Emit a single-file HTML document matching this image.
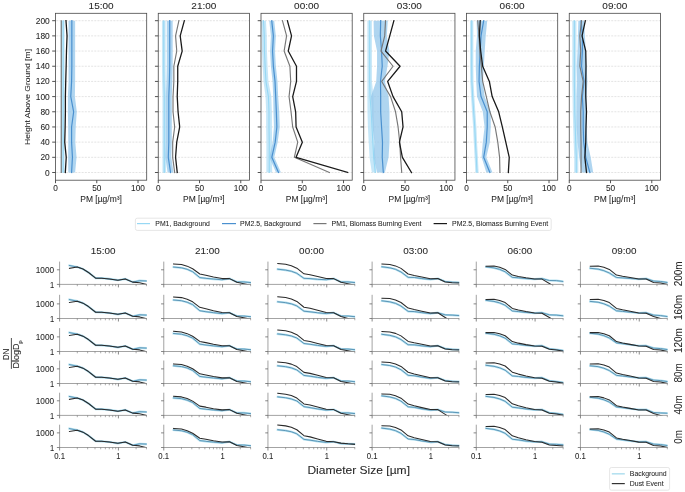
<!DOCTYPE html>
<html><head><meta charset="utf-8"><style>
html,body{margin:0;padding:0;background:#fff;}
svg{display:block;font-family:"Liberation Sans", sans-serif;filter:blur(0.35px);}
text{stroke:#262626;stroke-width:0.06px;}
</style></head><body>
<svg width="685" height="492" viewBox="0 0 685 492">
<rect width="685" height="492" fill="#fff"/>
<clipPath id="tc0"><rect x="55.50" y="13.30" width="91.20" height="166.90"/></clipPath>
<line x1="55.50" y1="172.50" x2="146.70" y2="172.50" stroke="#d2d2d2" stroke-width="0.6" stroke-dasharray="2,1.17" stroke-dashoffset="2.4"/>
<line x1="55.50" y1="157.32" x2="146.70" y2="157.32" stroke="#d2d2d2" stroke-width="0.6" stroke-dasharray="2,1.17" stroke-dashoffset="2.4"/>
<line x1="55.50" y1="142.14" x2="146.70" y2="142.14" stroke="#d2d2d2" stroke-width="0.6" stroke-dasharray="2,1.17" stroke-dashoffset="2.4"/>
<line x1="55.50" y1="126.96" x2="146.70" y2="126.96" stroke="#d2d2d2" stroke-width="0.6" stroke-dasharray="2,1.17" stroke-dashoffset="2.4"/>
<line x1="55.50" y1="111.78" x2="146.70" y2="111.78" stroke="#d2d2d2" stroke-width="0.6" stroke-dasharray="2,1.17" stroke-dashoffset="2.4"/>
<line x1="55.50" y1="96.60" x2="146.70" y2="96.60" stroke="#d2d2d2" stroke-width="0.6" stroke-dasharray="2,1.17" stroke-dashoffset="2.4"/>
<line x1="55.50" y1="81.42" x2="146.70" y2="81.42" stroke="#d2d2d2" stroke-width="0.6" stroke-dasharray="2,1.17" stroke-dashoffset="2.4"/>
<line x1="55.50" y1="66.24" x2="146.70" y2="66.24" stroke="#d2d2d2" stroke-width="0.6" stroke-dasharray="2,1.17" stroke-dashoffset="2.4"/>
<line x1="55.50" y1="51.06" x2="146.70" y2="51.06" stroke="#d2d2d2" stroke-width="0.6" stroke-dasharray="2,1.17" stroke-dashoffset="2.4"/>
<line x1="55.50" y1="35.88" x2="146.70" y2="35.88" stroke="#d2d2d2" stroke-width="0.6" stroke-dasharray="2,1.17" stroke-dashoffset="2.4"/>
<line x1="55.50" y1="20.70" x2="146.70" y2="20.70" stroke="#d2d2d2" stroke-width="0.6" stroke-dasharray="2,1.17" stroke-dashoffset="2.4"/>
<g clip-path="url(#tc0)">
<polygon points="60.62,172.50 60.62,157.32 60.62,142.14 60.62,126.96 60.62,111.78 60.62,96.60 60.62,81.42 60.62,66.24 60.62,51.06 60.62,35.88 60.62,20.70 64.58,20.70 64.58,35.88 64.58,51.06 64.58,66.24 64.58,81.42 64.58,96.60 64.58,111.78 64.58,126.96 64.58,142.14 64.58,157.32 64.58,172.50" fill="#b3dff5" fill-opacity="0.75"/>
<polygon points="68.29,172.50 68.13,157.32 68.29,142.14 68.13,126.96 67.88,111.78 67.88,96.60 68.54,81.42 68.54,66.24 68.54,51.06 68.54,35.88 68.54,20.70 75.14,20.70 75.14,35.88 75.14,51.06 75.14,66.24 75.14,81.42 74.90,96.60 76.79,111.78 75.72,126.96 75.31,142.14 76.55,157.32 75.14,172.50" fill="#94c7eb" fill-opacity="0.75"/>
<polyline points="63.18,172.50 63.18,157.32 63.18,142.14 63.18,126.96 63.18,111.78 63.18,96.60 63.18,81.42 63.18,66.24 63.18,51.06 63.18,35.88 63.18,20.70" fill="none" stroke="#97d8f4" stroke-width="1.1" stroke-linejoin="round" stroke-linecap="square" />
<polyline points="71.59,172.50 72.42,157.32 71.59,142.14 71.59,126.96 73.66,111.78 70.77,96.60 71.59,81.42 71.84,66.24 71.84,51.06 71.84,35.88 71.84,20.70" fill="none" stroke="#4a90cf" stroke-width="1.2" stroke-linejoin="round" stroke-linecap="square" />
<polyline points="61.28,172.50 61.28,157.32 61.28,142.14 61.28,126.96 61.28,111.78 61.28,96.60 61.28,81.42 61.28,66.24 61.28,51.06 61.28,35.88 61.28,20.70" fill="none" stroke="#777777" stroke-width="1.15" stroke-linejoin="round" stroke-linecap="square" />
<polyline points="65.32,172.50 66.23,157.32 64.74,142.14 65.16,126.96 65.40,111.78 65.40,96.60 65.73,81.42 66.15,66.24 66.48,51.06 67.05,35.88 65.98,20.70" fill="none" stroke="#1a1a1a" stroke-width="1.3" stroke-linejoin="round" stroke-linecap="square" />
</g>
<rect x="55.50" y="13.30" width="91.20" height="166.90" fill="none" stroke="#484848" stroke-width="0.8"/>
<line x1="52.20" y1="172.50" x2="55.50" y2="172.50" stroke="#404040" stroke-width="0.9" />
<line x1="52.20" y1="157.32" x2="55.50" y2="157.32" stroke="#404040" stroke-width="0.9" />
<line x1="52.20" y1="142.14" x2="55.50" y2="142.14" stroke="#404040" stroke-width="0.9" />
<line x1="52.20" y1="126.96" x2="55.50" y2="126.96" stroke="#404040" stroke-width="0.9" />
<line x1="52.20" y1="111.78" x2="55.50" y2="111.78" stroke="#404040" stroke-width="0.9" />
<line x1="52.20" y1="96.60" x2="55.50" y2="96.60" stroke="#404040" stroke-width="0.9" />
<line x1="52.20" y1="81.42" x2="55.50" y2="81.42" stroke="#404040" stroke-width="0.9" />
<line x1="52.20" y1="66.24" x2="55.50" y2="66.24" stroke="#404040" stroke-width="0.9" />
<line x1="52.20" y1="51.06" x2="55.50" y2="51.06" stroke="#404040" stroke-width="0.9" />
<line x1="52.20" y1="35.88" x2="55.50" y2="35.88" stroke="#404040" stroke-width="0.9" />
<line x1="52.20" y1="20.70" x2="55.50" y2="20.70" stroke="#404040" stroke-width="0.9" />
<line x1="55.50" y1="180.20" x2="55.50" y2="183.20" stroke="#404040" stroke-width="0.9" />
<text x="55.50" y="191.20" font-size="8.2" text-anchor="middle" fill="#262626" textLength="4.60" lengthAdjust="spacingAndGlyphs" >0</text>
<line x1="96.77" y1="180.20" x2="96.77" y2="183.20" stroke="#404040" stroke-width="0.9" />
<text x="96.77" y="191.20" font-size="8.2" text-anchor="middle" fill="#262626" textLength="9.20" lengthAdjust="spacingAndGlyphs" >50</text>
<line x1="138.03" y1="180.20" x2="138.03" y2="183.20" stroke="#404040" stroke-width="0.9" />
<text x="138.03" y="191.20" font-size="8.2" text-anchor="middle" fill="#262626" textLength="13.80" lengthAdjust="spacingAndGlyphs" >100</text>
<text x="101.10" y="201.80" font-size="8.3" text-anchor="middle" fill="#262626" textLength="41.50" lengthAdjust="spacingAndGlyphs" >PM [µg/m³]</text>
<text x="101.10" y="9.00" font-size="9.9" text-anchor="middle" fill="#262626" textLength="25.00" lengthAdjust="spacingAndGlyphs" >15:00</text>
<text x="49.80" y="175.50" font-size="8.2" text-anchor="end" fill="#262626" textLength="4.67" lengthAdjust="spacingAndGlyphs" >0</text>
<text x="49.80" y="160.32" font-size="8.2" text-anchor="end" fill="#262626" textLength="9.34" lengthAdjust="spacingAndGlyphs" >20</text>
<text x="49.80" y="145.14" font-size="8.2" text-anchor="end" fill="#262626" textLength="9.34" lengthAdjust="spacingAndGlyphs" >40</text>
<text x="49.80" y="129.96" font-size="8.2" text-anchor="end" fill="#262626" textLength="9.34" lengthAdjust="spacingAndGlyphs" >60</text>
<text x="49.80" y="114.78" font-size="8.2" text-anchor="end" fill="#262626" textLength="9.34" lengthAdjust="spacingAndGlyphs" >80</text>
<text x="49.80" y="99.60" font-size="8.2" text-anchor="end" fill="#262626" textLength="14.01" lengthAdjust="spacingAndGlyphs" >100</text>
<text x="49.80" y="84.42" font-size="8.2" text-anchor="end" fill="#262626" textLength="14.01" lengthAdjust="spacingAndGlyphs" >120</text>
<text x="49.80" y="69.24" font-size="8.2" text-anchor="end" fill="#262626" textLength="14.01" lengthAdjust="spacingAndGlyphs" >140</text>
<text x="49.80" y="54.06" font-size="8.2" text-anchor="end" fill="#262626" textLength="14.01" lengthAdjust="spacingAndGlyphs" >160</text>
<text x="49.80" y="38.88" font-size="8.2" text-anchor="end" fill="#262626" textLength="14.01" lengthAdjust="spacingAndGlyphs" >180</text>
<text x="49.80" y="23.70" font-size="8.2" text-anchor="end" fill="#262626" textLength="14.01" lengthAdjust="spacingAndGlyphs" >200</text>
<text x="0" y="0" font-size="7.9" text-anchor="middle" fill="#262626" textLength="96" lengthAdjust="spacingAndGlyphs" transform="translate(30.1,96.9) rotate(-90)">Height Above Ground [m]</text>
<clipPath id="tc1"><rect x="158.25" y="13.30" width="91.20" height="166.90"/></clipPath>
<line x1="158.25" y1="172.50" x2="249.45" y2="172.50" stroke="#d2d2d2" stroke-width="0.6" stroke-dasharray="2,1.17" stroke-dashoffset="2.4"/>
<line x1="158.25" y1="157.32" x2="249.45" y2="157.32" stroke="#d2d2d2" stroke-width="0.6" stroke-dasharray="2,1.17" stroke-dashoffset="2.4"/>
<line x1="158.25" y1="142.14" x2="249.45" y2="142.14" stroke="#d2d2d2" stroke-width="0.6" stroke-dasharray="2,1.17" stroke-dashoffset="2.4"/>
<line x1="158.25" y1="126.96" x2="249.45" y2="126.96" stroke="#d2d2d2" stroke-width="0.6" stroke-dasharray="2,1.17" stroke-dashoffset="2.4"/>
<line x1="158.25" y1="111.78" x2="249.45" y2="111.78" stroke="#d2d2d2" stroke-width="0.6" stroke-dasharray="2,1.17" stroke-dashoffset="2.4"/>
<line x1="158.25" y1="96.60" x2="249.45" y2="96.60" stroke="#d2d2d2" stroke-width="0.6" stroke-dasharray="2,1.17" stroke-dashoffset="2.4"/>
<line x1="158.25" y1="81.42" x2="249.45" y2="81.42" stroke="#d2d2d2" stroke-width="0.6" stroke-dasharray="2,1.17" stroke-dashoffset="2.4"/>
<line x1="158.25" y1="66.24" x2="249.45" y2="66.24" stroke="#d2d2d2" stroke-width="0.6" stroke-dasharray="2,1.17" stroke-dashoffset="2.4"/>
<line x1="158.25" y1="51.06" x2="249.45" y2="51.06" stroke="#d2d2d2" stroke-width="0.6" stroke-dasharray="2,1.17" stroke-dashoffset="2.4"/>
<line x1="158.25" y1="35.88" x2="249.45" y2="35.88" stroke="#d2d2d2" stroke-width="0.6" stroke-dasharray="2,1.17" stroke-dashoffset="2.4"/>
<line x1="158.25" y1="20.70" x2="249.45" y2="20.70" stroke="#d2d2d2" stroke-width="0.6" stroke-dasharray="2,1.17" stroke-dashoffset="2.4"/>
<g clip-path="url(#tc1)">
<polygon points="162.46,172.50 162.46,157.32 162.46,142.14 162.46,126.96 162.46,111.78 162.46,96.60 162.13,81.42 161.96,66.24 161.96,51.06 161.96,35.88 161.96,20.70 165.60,20.70 165.60,35.88 165.60,51.06 165.60,66.24 165.76,81.42 166.09,96.60 166.09,111.78 166.09,126.96 166.09,142.14 166.09,157.32 166.09,172.50" fill="#b3dff5" fill-opacity="0.75"/>
<polygon points="167.58,172.50 165.35,157.32 165.84,142.14 165.84,126.96 165.84,111.78 165.84,96.60 166.42,81.42 166.75,66.24 166.75,51.06 166.75,35.88 166.75,20.70 172.69,20.70 172.69,35.88 172.69,51.06 172.69,66.24 172.36,81.42 171.79,96.60 171.79,111.78 171.79,126.96 171.79,142.14 171.29,157.32 173.52,172.50" fill="#94c7eb" fill-opacity="0.75"/>
<polyline points="164.27,172.50 164.27,157.32 164.27,142.14 164.27,126.96 164.27,111.78 164.27,96.60 163.94,81.42 163.78,66.24 163.78,51.06 163.78,35.88 163.78,20.70" fill="none" stroke="#97d8f4" stroke-width="1.1" stroke-linejoin="round" stroke-linecap="square" />
<polyline points="170.55,172.50 168.32,157.32 168.81,142.14 168.81,126.96 168.81,111.78 168.81,96.60 169.39,81.42 169.72,66.24 169.72,51.06 169.72,35.88 169.72,20.70" fill="none" stroke="#4a90cf" stroke-width="1.2" stroke-linejoin="round" stroke-linecap="square" />
<polyline points="174.67,172.50 172.69,157.32 172.69,142.14 174.67,126.96 173.02,111.78 173.02,96.60 173.85,81.42 173.85,66.24 176.74,51.06 175.58,35.88 178.88,20.70" fill="none" stroke="#777777" stroke-width="1.15" stroke-linejoin="round" stroke-linecap="square" />
<polyline points="177.23,172.50 175.58,157.32 176.74,142.14 179.71,126.96 178.06,111.78 177.23,96.60 177.73,81.42 177.73,66.24 182.18,51.06 180.20,35.88 184.33,20.70" fill="none" stroke="#1a1a1a" stroke-width="1.3" stroke-linejoin="round" stroke-linecap="square" />
</g>
<rect x="158.25" y="13.30" width="91.20" height="166.90" fill="none" stroke="#484848" stroke-width="0.8"/>
<line x1="154.95" y1="172.50" x2="158.25" y2="172.50" stroke="#404040" stroke-width="0.9" />
<line x1="154.95" y1="157.32" x2="158.25" y2="157.32" stroke="#404040" stroke-width="0.9" />
<line x1="154.95" y1="142.14" x2="158.25" y2="142.14" stroke="#404040" stroke-width="0.9" />
<line x1="154.95" y1="126.96" x2="158.25" y2="126.96" stroke="#404040" stroke-width="0.9" />
<line x1="154.95" y1="111.78" x2="158.25" y2="111.78" stroke="#404040" stroke-width="0.9" />
<line x1="154.95" y1="96.60" x2="158.25" y2="96.60" stroke="#404040" stroke-width="0.9" />
<line x1="154.95" y1="81.42" x2="158.25" y2="81.42" stroke="#404040" stroke-width="0.9" />
<line x1="154.95" y1="66.24" x2="158.25" y2="66.24" stroke="#404040" stroke-width="0.9" />
<line x1="154.95" y1="51.06" x2="158.25" y2="51.06" stroke="#404040" stroke-width="0.9" />
<line x1="154.95" y1="35.88" x2="158.25" y2="35.88" stroke="#404040" stroke-width="0.9" />
<line x1="154.95" y1="20.70" x2="158.25" y2="20.70" stroke="#404040" stroke-width="0.9" />
<line x1="158.25" y1="180.20" x2="158.25" y2="183.20" stroke="#404040" stroke-width="0.9" />
<text x="158.25" y="191.20" font-size="8.2" text-anchor="middle" fill="#262626" textLength="4.60" lengthAdjust="spacingAndGlyphs" >0</text>
<line x1="199.52" y1="180.20" x2="199.52" y2="183.20" stroke="#404040" stroke-width="0.9" />
<text x="199.52" y="191.20" font-size="8.2" text-anchor="middle" fill="#262626" textLength="9.20" lengthAdjust="spacingAndGlyphs" >50</text>
<line x1="240.78" y1="180.20" x2="240.78" y2="183.20" stroke="#404040" stroke-width="0.9" />
<text x="240.78" y="191.20" font-size="8.2" text-anchor="middle" fill="#262626" textLength="13.80" lengthAdjust="spacingAndGlyphs" >100</text>
<text x="203.85" y="201.80" font-size="8.3" text-anchor="middle" fill="#262626" textLength="41.50" lengthAdjust="spacingAndGlyphs" >PM [µg/m³]</text>
<text x="203.85" y="9.00" font-size="9.9" text-anchor="middle" fill="#262626" textLength="25.00" lengthAdjust="spacingAndGlyphs" >21:00</text>
<clipPath id="tc2"><rect x="261.00" y="13.30" width="91.20" height="166.90"/></clipPath>
<line x1="261.00" y1="172.50" x2="352.20" y2="172.50" stroke="#d2d2d2" stroke-width="0.6" stroke-dasharray="2,1.17" stroke-dashoffset="2.4"/>
<line x1="261.00" y1="157.32" x2="352.20" y2="157.32" stroke="#d2d2d2" stroke-width="0.6" stroke-dasharray="2,1.17" stroke-dashoffset="2.4"/>
<line x1="261.00" y1="142.14" x2="352.20" y2="142.14" stroke="#d2d2d2" stroke-width="0.6" stroke-dasharray="2,1.17" stroke-dashoffset="2.4"/>
<line x1="261.00" y1="126.96" x2="352.20" y2="126.96" stroke="#d2d2d2" stroke-width="0.6" stroke-dasharray="2,1.17" stroke-dashoffset="2.4"/>
<line x1="261.00" y1="111.78" x2="352.20" y2="111.78" stroke="#d2d2d2" stroke-width="0.6" stroke-dasharray="2,1.17" stroke-dashoffset="2.4"/>
<line x1="261.00" y1="96.60" x2="352.20" y2="96.60" stroke="#d2d2d2" stroke-width="0.6" stroke-dasharray="2,1.17" stroke-dashoffset="2.4"/>
<line x1="261.00" y1="81.42" x2="352.20" y2="81.42" stroke="#d2d2d2" stroke-width="0.6" stroke-dasharray="2,1.17" stroke-dashoffset="2.4"/>
<line x1="261.00" y1="66.24" x2="352.20" y2="66.24" stroke="#d2d2d2" stroke-width="0.6" stroke-dasharray="2,1.17" stroke-dashoffset="2.4"/>
<line x1="261.00" y1="51.06" x2="352.20" y2="51.06" stroke="#d2d2d2" stroke-width="0.6" stroke-dasharray="2,1.17" stroke-dashoffset="2.4"/>
<line x1="261.00" y1="35.88" x2="352.20" y2="35.88" stroke="#d2d2d2" stroke-width="0.6" stroke-dasharray="2,1.17" stroke-dashoffset="2.4"/>
<line x1="261.00" y1="20.70" x2="352.20" y2="20.70" stroke="#d2d2d2" stroke-width="0.6" stroke-dasharray="2,1.17" stroke-dashoffset="2.4"/>
<g clip-path="url(#tc2)">
<polygon points="266.36,172.50 266.36,157.32 266.36,142.14 266.12,126.96 266.12,111.78 265.54,96.60 263.48,81.42 262.65,66.24 261.99,51.06 261.83,35.88 261.00,20.70 265.95,20.70 266.78,35.88 266.94,51.06 267.60,66.24 268.43,81.42 271.32,96.60 271.89,111.78 271.89,126.96 272.14,142.14 272.14,157.32 272.14,172.50" fill="#b3dff5" fill-opacity="0.75"/>
<polygon points="276.02,172.50 269.34,157.32 272.72,142.14 273.96,126.96 273.46,111.78 273.22,96.60 272.55,81.42 270.90,66.24 270.08,51.06 270.90,35.88 269.25,20.70 274.21,20.70 275.86,35.88 275.03,51.06 275.86,66.24 277.51,81.42 278.17,96.60 279.24,111.78 279.74,126.96 277.67,142.14 274.29,157.32 280.97,172.50" fill="#94c7eb" fill-opacity="0.75"/>
<polyline points="269.25,172.50 269.25,157.32 269.25,142.14 269.01,126.96 269.01,111.78 268.43,96.60 265.95,81.42 265.13,66.24 264.47,51.06 264.30,35.88 263.48,20.70" fill="none" stroke="#97d8f4" stroke-width="1.1" stroke-linejoin="round" stroke-linecap="square" />
<polyline points="278.50,172.50 271.81,157.32 275.20,142.14 276.85,126.96 276.35,111.78 275.69,96.60 275.03,81.42 273.38,66.24 272.55,51.06 273.38,35.88 271.73,20.70" fill="none" stroke="#4a90cf" stroke-width="1.2" stroke-linejoin="round" stroke-linecap="square" />
<polyline points="329.42,172.50 294.34,157.32 297.73,142.14 292.69,126.96 291.04,111.78 289.06,96.60 290.71,81.42 289.89,66.24 284.11,51.06 286.59,35.88 282.46,20.70" fill="none" stroke="#777777" stroke-width="1.15" stroke-linejoin="round" stroke-linecap="square" />
<polyline points="347.66,172.50 296.08,157.32 302.35,142.14 296.08,126.96 295.66,111.78 292.69,96.60 296.49,81.42 296.49,66.24 288.24,51.06 291.54,35.88 287.41,20.70" fill="none" stroke="#1a1a1a" stroke-width="1.3" stroke-linejoin="round" stroke-linecap="square" />
</g>
<rect x="261.00" y="13.30" width="91.20" height="166.90" fill="none" stroke="#484848" stroke-width="0.8"/>
<line x1="257.70" y1="172.50" x2="261.00" y2="172.50" stroke="#404040" stroke-width="0.9" />
<line x1="257.70" y1="157.32" x2="261.00" y2="157.32" stroke="#404040" stroke-width="0.9" />
<line x1="257.70" y1="142.14" x2="261.00" y2="142.14" stroke="#404040" stroke-width="0.9" />
<line x1="257.70" y1="126.96" x2="261.00" y2="126.96" stroke="#404040" stroke-width="0.9" />
<line x1="257.70" y1="111.78" x2="261.00" y2="111.78" stroke="#404040" stroke-width="0.9" />
<line x1="257.70" y1="96.60" x2="261.00" y2="96.60" stroke="#404040" stroke-width="0.9" />
<line x1="257.70" y1="81.42" x2="261.00" y2="81.42" stroke="#404040" stroke-width="0.9" />
<line x1="257.70" y1="66.24" x2="261.00" y2="66.24" stroke="#404040" stroke-width="0.9" />
<line x1="257.70" y1="51.06" x2="261.00" y2="51.06" stroke="#404040" stroke-width="0.9" />
<line x1="257.70" y1="35.88" x2="261.00" y2="35.88" stroke="#404040" stroke-width="0.9" />
<line x1="257.70" y1="20.70" x2="261.00" y2="20.70" stroke="#404040" stroke-width="0.9" />
<line x1="261.00" y1="180.20" x2="261.00" y2="183.20" stroke="#404040" stroke-width="0.9" />
<text x="261.00" y="191.20" font-size="8.2" text-anchor="middle" fill="#262626" textLength="4.60" lengthAdjust="spacingAndGlyphs" >0</text>
<line x1="302.27" y1="180.20" x2="302.27" y2="183.20" stroke="#404040" stroke-width="0.9" />
<text x="302.27" y="191.20" font-size="8.2" text-anchor="middle" fill="#262626" textLength="9.20" lengthAdjust="spacingAndGlyphs" >50</text>
<line x1="343.53" y1="180.20" x2="343.53" y2="183.20" stroke="#404040" stroke-width="0.9" />
<text x="343.53" y="191.20" font-size="8.2" text-anchor="middle" fill="#262626" textLength="13.80" lengthAdjust="spacingAndGlyphs" >100</text>
<text x="306.60" y="201.80" font-size="8.3" text-anchor="middle" fill="#262626" textLength="41.50" lengthAdjust="spacingAndGlyphs" >PM [µg/m³]</text>
<text x="306.60" y="9.00" font-size="9.9" text-anchor="middle" fill="#262626" textLength="25.00" lengthAdjust="spacingAndGlyphs" >00:00</text>
<clipPath id="tc3"><rect x="363.75" y="13.30" width="91.20" height="166.90"/></clipPath>
<line x1="363.75" y1="172.50" x2="454.95" y2="172.50" stroke="#d2d2d2" stroke-width="0.6" stroke-dasharray="2,1.17" stroke-dashoffset="2.4"/>
<line x1="363.75" y1="157.32" x2="454.95" y2="157.32" stroke="#d2d2d2" stroke-width="0.6" stroke-dasharray="2,1.17" stroke-dashoffset="2.4"/>
<line x1="363.75" y1="142.14" x2="454.95" y2="142.14" stroke="#d2d2d2" stroke-width="0.6" stroke-dasharray="2,1.17" stroke-dashoffset="2.4"/>
<line x1="363.75" y1="126.96" x2="454.95" y2="126.96" stroke="#d2d2d2" stroke-width="0.6" stroke-dasharray="2,1.17" stroke-dashoffset="2.4"/>
<line x1="363.75" y1="111.78" x2="454.95" y2="111.78" stroke="#d2d2d2" stroke-width="0.6" stroke-dasharray="2,1.17" stroke-dashoffset="2.4"/>
<line x1="363.75" y1="96.60" x2="454.95" y2="96.60" stroke="#d2d2d2" stroke-width="0.6" stroke-dasharray="2,1.17" stroke-dashoffset="2.4"/>
<line x1="363.75" y1="81.42" x2="454.95" y2="81.42" stroke="#d2d2d2" stroke-width="0.6" stroke-dasharray="2,1.17" stroke-dashoffset="2.4"/>
<line x1="363.75" y1="66.24" x2="454.95" y2="66.24" stroke="#d2d2d2" stroke-width="0.6" stroke-dasharray="2,1.17" stroke-dashoffset="2.4"/>
<line x1="363.75" y1="51.06" x2="454.95" y2="51.06" stroke="#d2d2d2" stroke-width="0.6" stroke-dasharray="2,1.17" stroke-dashoffset="2.4"/>
<line x1="363.75" y1="35.88" x2="454.95" y2="35.88" stroke="#d2d2d2" stroke-width="0.6" stroke-dasharray="2,1.17" stroke-dashoffset="2.4"/>
<line x1="363.75" y1="20.70" x2="454.95" y2="20.70" stroke="#d2d2d2" stroke-width="0.6" stroke-dasharray="2,1.17" stroke-dashoffset="2.4"/>
<g clip-path="url(#tc3)">
<polygon points="371.84,172.50 369.53,157.32 368.70,142.14 367.88,126.96 367.46,111.78 367.38,96.60 367.38,81.42 367.38,66.24 367.38,51.06 367.38,35.88 367.38,20.70 371.92,20.70 371.92,35.88 371.92,51.06 371.92,66.24 371.92,81.42 373.57,96.60 373.65,111.78 374.07,126.96 374.48,142.14 375.30,157.32 376.30,172.50" fill="#b3dff5" fill-opacity="0.75"/>
<polygon points="377.04,172.50 373.57,157.32 374.40,142.14 372.66,126.96 371.76,111.78 371.01,96.60 376.21,81.42 377.04,66.24 377.04,51.06 373.90,35.88 373.57,20.70 387.77,20.70 386.78,35.88 389.42,51.06 387.44,66.24 384.88,81.42 388.59,96.60 389.50,111.78 389.50,126.96 389.50,142.14 388.59,157.32 384.88,172.50" fill="#94c7eb" fill-opacity="0.75"/>
<polyline points="375.30,172.50 373.65,157.32 372.83,142.14 372.00,126.96 371.18,111.78 370.02,96.60 369.69,81.42 369.69,66.24 369.69,51.06 369.69,35.88 369.69,20.70" fill="none" stroke="#97d8f4" stroke-width="1.1" stroke-linejoin="round" stroke-linecap="square" />
<polyline points="383.31,172.50 382.24,157.32 382.49,142.14 381.58,126.96 380.67,111.78 380.67,96.60 380.50,81.42 382.24,66.24 381.58,51.06 380.34,35.88 380.67,20.70" fill="none" stroke="#4a90cf" stroke-width="1.2" stroke-linejoin="round" stroke-linecap="square" />
<polyline points="401.72,172.50 400.56,157.32 399.73,142.14 398.08,126.96 395.53,111.78 390.57,96.60 381.74,81.42 393.05,66.24 381.00,51.06 384.71,35.88 385.54,20.70" fill="none" stroke="#777777" stroke-width="1.15" stroke-linejoin="round" stroke-linecap="square" />
<polyline points="411.45,172.50 402.38,157.32 399.40,142.14 403.04,126.96 401.72,111.78 393.05,96.60 387.68,81.42 400.06,66.24 385.54,51.06 389.75,35.88 393.87,20.70" fill="none" stroke="#1a1a1a" stroke-width="1.3" stroke-linejoin="round" stroke-linecap="square" />
</g>
<rect x="363.75" y="13.30" width="91.20" height="166.90" fill="none" stroke="#484848" stroke-width="0.8"/>
<line x1="360.45" y1="172.50" x2="363.75" y2="172.50" stroke="#404040" stroke-width="0.9" />
<line x1="360.45" y1="157.32" x2="363.75" y2="157.32" stroke="#404040" stroke-width="0.9" />
<line x1="360.45" y1="142.14" x2="363.75" y2="142.14" stroke="#404040" stroke-width="0.9" />
<line x1="360.45" y1="126.96" x2="363.75" y2="126.96" stroke="#404040" stroke-width="0.9" />
<line x1="360.45" y1="111.78" x2="363.75" y2="111.78" stroke="#404040" stroke-width="0.9" />
<line x1="360.45" y1="96.60" x2="363.75" y2="96.60" stroke="#404040" stroke-width="0.9" />
<line x1="360.45" y1="81.42" x2="363.75" y2="81.42" stroke="#404040" stroke-width="0.9" />
<line x1="360.45" y1="66.24" x2="363.75" y2="66.24" stroke="#404040" stroke-width="0.9" />
<line x1="360.45" y1="51.06" x2="363.75" y2="51.06" stroke="#404040" stroke-width="0.9" />
<line x1="360.45" y1="35.88" x2="363.75" y2="35.88" stroke="#404040" stroke-width="0.9" />
<line x1="360.45" y1="20.70" x2="363.75" y2="20.70" stroke="#404040" stroke-width="0.9" />
<line x1="363.75" y1="180.20" x2="363.75" y2="183.20" stroke="#404040" stroke-width="0.9" />
<text x="363.75" y="191.20" font-size="8.2" text-anchor="middle" fill="#262626" textLength="4.60" lengthAdjust="spacingAndGlyphs" >0</text>
<line x1="405.02" y1="180.20" x2="405.02" y2="183.20" stroke="#404040" stroke-width="0.9" />
<text x="405.02" y="191.20" font-size="8.2" text-anchor="middle" fill="#262626" textLength="9.20" lengthAdjust="spacingAndGlyphs" >50</text>
<line x1="446.28" y1="180.20" x2="446.28" y2="183.20" stroke="#404040" stroke-width="0.9" />
<text x="446.28" y="191.20" font-size="8.2" text-anchor="middle" fill="#262626" textLength="13.80" lengthAdjust="spacingAndGlyphs" >100</text>
<text x="409.35" y="201.80" font-size="8.3" text-anchor="middle" fill="#262626" textLength="41.50" lengthAdjust="spacingAndGlyphs" >PM [µg/m³]</text>
<text x="409.35" y="9.00" font-size="9.9" text-anchor="middle" fill="#262626" textLength="25.00" lengthAdjust="spacingAndGlyphs" >03:00</text>
<clipPath id="tc4"><rect x="466.50" y="13.30" width="91.20" height="166.90"/></clipPath>
<line x1="466.50" y1="172.50" x2="557.70" y2="172.50" stroke="#d2d2d2" stroke-width="0.6" stroke-dasharray="2,1.17" stroke-dashoffset="2.4"/>
<line x1="466.50" y1="157.32" x2="557.70" y2="157.32" stroke="#d2d2d2" stroke-width="0.6" stroke-dasharray="2,1.17" stroke-dashoffset="2.4"/>
<line x1="466.50" y1="142.14" x2="557.70" y2="142.14" stroke="#d2d2d2" stroke-width="0.6" stroke-dasharray="2,1.17" stroke-dashoffset="2.4"/>
<line x1="466.50" y1="126.96" x2="557.70" y2="126.96" stroke="#d2d2d2" stroke-width="0.6" stroke-dasharray="2,1.17" stroke-dashoffset="2.4"/>
<line x1="466.50" y1="111.78" x2="557.70" y2="111.78" stroke="#d2d2d2" stroke-width="0.6" stroke-dasharray="2,1.17" stroke-dashoffset="2.4"/>
<line x1="466.50" y1="96.60" x2="557.70" y2="96.60" stroke="#d2d2d2" stroke-width="0.6" stroke-dasharray="2,1.17" stroke-dashoffset="2.4"/>
<line x1="466.50" y1="81.42" x2="557.70" y2="81.42" stroke="#d2d2d2" stroke-width="0.6" stroke-dasharray="2,1.17" stroke-dashoffset="2.4"/>
<line x1="466.50" y1="66.24" x2="557.70" y2="66.24" stroke="#d2d2d2" stroke-width="0.6" stroke-dasharray="2,1.17" stroke-dashoffset="2.4"/>
<line x1="466.50" y1="51.06" x2="557.70" y2="51.06" stroke="#d2d2d2" stroke-width="0.6" stroke-dasharray="2,1.17" stroke-dashoffset="2.4"/>
<line x1="466.50" y1="35.88" x2="557.70" y2="35.88" stroke="#d2d2d2" stroke-width="0.6" stroke-dasharray="2,1.17" stroke-dashoffset="2.4"/>
<line x1="466.50" y1="20.70" x2="557.70" y2="20.70" stroke="#d2d2d2" stroke-width="0.6" stroke-dasharray="2,1.17" stroke-dashoffset="2.4"/>
<g clip-path="url(#tc4)">
<polygon points="475.33,172.50 474.59,157.32 473.76,142.14 473.10,126.96 472.03,111.78 471.04,96.60 470.21,81.42 470.05,66.24 470.05,51.06 470.05,35.88 470.05,20.70 473.35,20.70 473.35,35.88 473.35,51.06 473.35,66.24 473.52,81.42 474.34,96.60 475.33,111.78 476.40,126.96 477.06,142.14 477.89,157.32 478.63,172.50" fill="#b3dff5" fill-opacity="0.75"/>
<polygon points="486.31,172.50 481.60,157.32 482.76,142.14 484.57,126.96 482.76,111.78 476.98,96.60 476.24,81.42 475.74,66.24 475.74,51.06 476.98,35.88 476.57,20.70 487.22,20.70 485.73,35.88 484.74,51.06 483.83,66.24 482.92,81.42 484.57,96.60 490.76,111.78 490.76,126.96 489.86,142.14 486.31,157.32 492.50,172.50" fill="#94c7eb" fill-opacity="0.75"/>
<polyline points="476.98,172.50 476.24,157.32 475.41,142.14 474.75,126.96 473.68,111.78 472.69,96.60 471.86,81.42 471.70,66.24 471.70,51.06 471.70,35.88 471.70,20.70" fill="none" stroke="#97d8f4" stroke-width="1.1" stroke-linejoin="round" stroke-linecap="square" />
<polyline points="489.86,172.50 483.67,157.32 486.31,142.14 487.22,126.96 487.22,111.78 481.03,96.60 479.05,81.42 479.38,66.24 480.20,51.06 481.03,35.88 483.67,20.70" fill="none" stroke="#4a90cf" stroke-width="1.2" stroke-linejoin="round" stroke-linecap="square" />
<polyline points="499.93,172.50 499.60,157.32 497.78,142.14 495.14,126.96 489.86,111.78 486.31,96.60 482.68,81.42 481.36,66.24 479.71,51.06 479.05,35.88 477.72,20.70" fill="none" stroke="#777777" stroke-width="1.15" stroke-linejoin="round" stroke-linecap="square" />
<polyline points="508.34,172.50 509.25,157.32 505.79,142.14 502.32,126.96 498.69,111.78 492.17,96.60 489.36,81.42 482.68,66.24 480.70,51.06 479.38,35.88 480.20,20.70" fill="none" stroke="#1a1a1a" stroke-width="1.3" stroke-linejoin="round" stroke-linecap="square" />
</g>
<rect x="466.50" y="13.30" width="91.20" height="166.90" fill="none" stroke="#484848" stroke-width="0.8"/>
<line x1="463.20" y1="172.50" x2="466.50" y2="172.50" stroke="#404040" stroke-width="0.9" />
<line x1="463.20" y1="157.32" x2="466.50" y2="157.32" stroke="#404040" stroke-width="0.9" />
<line x1="463.20" y1="142.14" x2="466.50" y2="142.14" stroke="#404040" stroke-width="0.9" />
<line x1="463.20" y1="126.96" x2="466.50" y2="126.96" stroke="#404040" stroke-width="0.9" />
<line x1="463.20" y1="111.78" x2="466.50" y2="111.78" stroke="#404040" stroke-width="0.9" />
<line x1="463.20" y1="96.60" x2="466.50" y2="96.60" stroke="#404040" stroke-width="0.9" />
<line x1="463.20" y1="81.42" x2="466.50" y2="81.42" stroke="#404040" stroke-width="0.9" />
<line x1="463.20" y1="66.24" x2="466.50" y2="66.24" stroke="#404040" stroke-width="0.9" />
<line x1="463.20" y1="51.06" x2="466.50" y2="51.06" stroke="#404040" stroke-width="0.9" />
<line x1="463.20" y1="35.88" x2="466.50" y2="35.88" stroke="#404040" stroke-width="0.9" />
<line x1="463.20" y1="20.70" x2="466.50" y2="20.70" stroke="#404040" stroke-width="0.9" />
<line x1="466.50" y1="180.20" x2="466.50" y2="183.20" stroke="#404040" stroke-width="0.9" />
<text x="466.50" y="191.20" font-size="8.2" text-anchor="middle" fill="#262626" textLength="4.60" lengthAdjust="spacingAndGlyphs" >0</text>
<line x1="507.77" y1="180.20" x2="507.77" y2="183.20" stroke="#404040" stroke-width="0.9" />
<text x="507.77" y="191.20" font-size="8.2" text-anchor="middle" fill="#262626" textLength="9.20" lengthAdjust="spacingAndGlyphs" >50</text>
<line x1="549.03" y1="180.20" x2="549.03" y2="183.20" stroke="#404040" stroke-width="0.9" />
<text x="549.03" y="191.20" font-size="8.2" text-anchor="middle" fill="#262626" textLength="13.80" lengthAdjust="spacingAndGlyphs" >100</text>
<text x="512.10" y="201.80" font-size="8.3" text-anchor="middle" fill="#262626" textLength="41.50" lengthAdjust="spacingAndGlyphs" >PM [µg/m³]</text>
<text x="512.10" y="9.00" font-size="9.9" text-anchor="middle" fill="#262626" textLength="25.00" lengthAdjust="spacingAndGlyphs" >06:00</text>
<clipPath id="tc5"><rect x="569.25" y="13.30" width="91.20" height="166.90"/></clipPath>
<line x1="569.25" y1="172.50" x2="660.45" y2="172.50" stroke="#d2d2d2" stroke-width="0.6" stroke-dasharray="2,1.17" stroke-dashoffset="2.4"/>
<line x1="569.25" y1="157.32" x2="660.45" y2="157.32" stroke="#d2d2d2" stroke-width="0.6" stroke-dasharray="2,1.17" stroke-dashoffset="2.4"/>
<line x1="569.25" y1="142.14" x2="660.45" y2="142.14" stroke="#d2d2d2" stroke-width="0.6" stroke-dasharray="2,1.17" stroke-dashoffset="2.4"/>
<line x1="569.25" y1="126.96" x2="660.45" y2="126.96" stroke="#d2d2d2" stroke-width="0.6" stroke-dasharray="2,1.17" stroke-dashoffset="2.4"/>
<line x1="569.25" y1="111.78" x2="660.45" y2="111.78" stroke="#d2d2d2" stroke-width="0.6" stroke-dasharray="2,1.17" stroke-dashoffset="2.4"/>
<line x1="569.25" y1="96.60" x2="660.45" y2="96.60" stroke="#d2d2d2" stroke-width="0.6" stroke-dasharray="2,1.17" stroke-dashoffset="2.4"/>
<line x1="569.25" y1="81.42" x2="660.45" y2="81.42" stroke="#d2d2d2" stroke-width="0.6" stroke-dasharray="2,1.17" stroke-dashoffset="2.4"/>
<line x1="569.25" y1="66.24" x2="660.45" y2="66.24" stroke="#d2d2d2" stroke-width="0.6" stroke-dasharray="2,1.17" stroke-dashoffset="2.4"/>
<line x1="569.25" y1="51.06" x2="660.45" y2="51.06" stroke="#d2d2d2" stroke-width="0.6" stroke-dasharray="2,1.17" stroke-dashoffset="2.4"/>
<line x1="569.25" y1="35.88" x2="660.45" y2="35.88" stroke="#d2d2d2" stroke-width="0.6" stroke-dasharray="2,1.17" stroke-dashoffset="2.4"/>
<line x1="569.25" y1="20.70" x2="660.45" y2="20.70" stroke="#d2d2d2" stroke-width="0.6" stroke-dasharray="2,1.17" stroke-dashoffset="2.4"/>
<g clip-path="url(#tc5)">
<polygon points="574.20,172.50 574.20,157.32 573.62,142.14 573.21,126.96 572.72,111.78 572.55,96.60 572.30,81.42 572.30,66.24 572.30,51.06 572.30,35.88 572.30,20.70 576.43,20.70 576.43,35.88 576.43,51.06 576.43,66.24 576.43,81.42 576.68,96.60 576.84,111.78 577.34,126.96 577.75,142.14 578.33,157.32 578.33,172.50" fill="#b3dff5" fill-opacity="0.75"/>
<polygon points="581.63,172.50 579.15,157.32 577.50,142.14 576.68,126.96 576.68,111.78 576.68,96.60 577.09,81.42 576.68,66.24 577.50,51.06 577.92,35.88 578.33,20.70 584.11,20.70 584.93,35.88 585.76,51.06 586.58,66.24 587.41,81.42 586.58,96.60 586.58,111.78 586.58,126.96 587.41,142.14 590.71,157.32 593.18,172.50" fill="#94c7eb" fill-opacity="0.75"/>
<polyline points="576.27,172.50 576.27,157.32 575.69,142.14 575.27,126.96 574.78,111.78 574.61,96.60 574.37,81.42 574.37,66.24 574.37,51.06 574.37,35.88 574.37,20.70" fill="none" stroke="#97d8f4" stroke-width="1.1" stroke-linejoin="round" stroke-linecap="square" />
<polyline points="589.88,172.50 585.76,157.32 583.69,142.14 583.20,126.96 583.20,111.78 582.37,96.60 584.02,81.42 581.55,66.24 582.37,51.06 582.37,35.88 581.05,20.70" fill="none" stroke="#4a90cf" stroke-width="1.2" stroke-linejoin="round" stroke-linecap="square" />
<polyline points="581.05,172.50 581.05,157.32 581.05,142.14 580.72,126.96 580.72,111.78 581.55,96.60 583.20,81.42 579.81,66.24 580.72,51.06 579.81,35.88 581.55,20.70" fill="none" stroke="#777777" stroke-width="1.15" stroke-linejoin="round" stroke-linecap="square" />
<polyline points="586.50,172.50 584.85,157.32 585.76,142.14 586.00,126.96 586.50,111.78 585.76,96.60 585.76,81.42 586.00,66.24 585.76,51.06 582.04,35.88 585.34,20.70" fill="none" stroke="#1a1a1a" stroke-width="1.3" stroke-linejoin="round" stroke-linecap="square" />
</g>
<rect x="569.25" y="13.30" width="91.20" height="166.90" fill="none" stroke="#484848" stroke-width="0.8"/>
<line x1="565.95" y1="172.50" x2="569.25" y2="172.50" stroke="#404040" stroke-width="0.9" />
<line x1="565.95" y1="157.32" x2="569.25" y2="157.32" stroke="#404040" stroke-width="0.9" />
<line x1="565.95" y1="142.14" x2="569.25" y2="142.14" stroke="#404040" stroke-width="0.9" />
<line x1="565.95" y1="126.96" x2="569.25" y2="126.96" stroke="#404040" stroke-width="0.9" />
<line x1="565.95" y1="111.78" x2="569.25" y2="111.78" stroke="#404040" stroke-width="0.9" />
<line x1="565.95" y1="96.60" x2="569.25" y2="96.60" stroke="#404040" stroke-width="0.9" />
<line x1="565.95" y1="81.42" x2="569.25" y2="81.42" stroke="#404040" stroke-width="0.9" />
<line x1="565.95" y1="66.24" x2="569.25" y2="66.24" stroke="#404040" stroke-width="0.9" />
<line x1="565.95" y1="51.06" x2="569.25" y2="51.06" stroke="#404040" stroke-width="0.9" />
<line x1="565.95" y1="35.88" x2="569.25" y2="35.88" stroke="#404040" stroke-width="0.9" />
<line x1="565.95" y1="20.70" x2="569.25" y2="20.70" stroke="#404040" stroke-width="0.9" />
<line x1="569.25" y1="180.20" x2="569.25" y2="183.20" stroke="#404040" stroke-width="0.9" />
<text x="569.25" y="191.20" font-size="8.2" text-anchor="middle" fill="#262626" textLength="4.60" lengthAdjust="spacingAndGlyphs" >0</text>
<line x1="610.52" y1="180.20" x2="610.52" y2="183.20" stroke="#404040" stroke-width="0.9" />
<text x="610.52" y="191.20" font-size="8.2" text-anchor="middle" fill="#262626" textLength="9.20" lengthAdjust="spacingAndGlyphs" >50</text>
<line x1="651.78" y1="180.20" x2="651.78" y2="183.20" stroke="#404040" stroke-width="0.9" />
<text x="651.78" y="191.20" font-size="8.2" text-anchor="middle" fill="#262626" textLength="13.80" lengthAdjust="spacingAndGlyphs" >100</text>
<text x="614.85" y="201.80" font-size="8.3" text-anchor="middle" fill="#262626" textLength="41.50" lengthAdjust="spacingAndGlyphs" >PM [µg/m³]</text>
<text x="614.85" y="9.00" font-size="9.9" text-anchor="middle" fill="#262626" textLength="25.00" lengthAdjust="spacingAndGlyphs" >09:00</text>
<rect x="135.4" y="218.2" width="415.8" height="12.2" rx="1.8" fill="#fff" stroke="#e0e0e0" stroke-width="0.8"/>
<line x1="137.00" y1="223.60" x2="150.00" y2="223.60" stroke="#97d8f4" stroke-width="1.2" />
<text x="155.30" y="226.20" font-size="7.3" text-anchor="start" fill="#262626" textLength="54.60" lengthAdjust="spacingAndGlyphs" >PM1, Background</text>
<line x1="222.00" y1="223.60" x2="236.00" y2="223.60" stroke="#4a90cf" stroke-width="1.2" />
<text x="240.10" y="226.20" font-size="7.3" text-anchor="start" fill="#262626" textLength="60.80" lengthAdjust="spacingAndGlyphs" >PM2.5, Background</text>
<line x1="313.40" y1="223.60" x2="326.50" y2="223.60" stroke="#777777" stroke-width="1.2" />
<text x="331.60" y="226.20" font-size="7.3" text-anchor="start" fill="#262626" textLength="89.90" lengthAdjust="spacingAndGlyphs" >PM1, Biomass Burning Event</text>
<line x1="433.60" y1="223.60" x2="447.00" y2="223.60" stroke="#1a1a1a" stroke-width="1.2" />
<text x="452.10" y="226.20" font-size="7.3" text-anchor="start" fill="#262626" textLength="96.10" lengthAdjust="spacingAndGlyphs" >PM2.5, Biomass Burning Event</text>
<text x="103.20" y="253.80" font-size="9.9" text-anchor="middle" fill="#262626" textLength="24.80" lengthAdjust="spacingAndGlyphs" >15:00</text>
<clipPath id="bc0_0"><rect x="59.60" y="259.60" width="87.20" height="24.80"/></clipPath>
<g clip-path="url(#bc0_0)">
<polyline points="69.44,265.50 77.30,267.06 83.00,269.06 88.49,272.47 95.63,278.12 101.70,278.22 109.29,278.90 117.88,280.21 125.30,278.90 132.69,282.11 139.67,280.70 146.45,280.99" fill="none" stroke="#b5e1f0" stroke-width="2.2" stroke-linejoin="round" stroke-linecap="square" />
<polyline points="69.44,265.50 77.30,267.06 83.00,269.06 88.49,272.47 95.63,278.12 101.70,278.22 109.29,278.90 117.88,280.21 125.30,278.90 132.69,282.11 139.67,280.70 146.45,280.99" fill="none" stroke="#5590b3" stroke-width="0.95" stroke-linejoin="round" stroke-linecap="square" />
<polyline points="69.44,268.38 77.30,267.06 83.00,269.06 88.49,272.47 95.63,278.12 101.70,278.22 109.29,278.90 117.88,280.21 125.30,278.90 132.69,282.11 139.67,282.79 146.45,284.50" fill="none" stroke="#2a2a2a" stroke-width="1.05" stroke-linejoin="round" stroke-linecap="square" />
</g>
<line x1="59.60" y1="261.60" x2="59.60" y2="284.40" stroke="#8c8c8c" stroke-width="0.8" />
<line x1="59.60" y1="284.40" x2="146.80" y2="284.40" stroke="#8c8c8c" stroke-width="0.8" />
<line x1="56.90" y1="284.40" x2="59.60" y2="284.40" stroke="#555" stroke-width="0.7" />
<line x1="56.90" y1="269.79" x2="59.60" y2="269.79" stroke="#555" stroke-width="0.7" />
<line x1="59.60" y1="284.40" x2="59.60" y2="287.40" stroke="#555" stroke-width="0.7" />
<line x1="77.30" y1="284.40" x2="77.30" y2="286.20" stroke="#666" stroke-width="0.55" />
<line x1="87.65" y1="284.40" x2="87.65" y2="286.20" stroke="#666" stroke-width="0.55" />
<line x1="95.00" y1="284.40" x2="95.00" y2="286.20" stroke="#666" stroke-width="0.55" />
<line x1="100.70" y1="284.40" x2="100.70" y2="286.20" stroke="#666" stroke-width="0.55" />
<line x1="105.36" y1="284.40" x2="105.36" y2="286.20" stroke="#666" stroke-width="0.55" />
<line x1="109.29" y1="284.40" x2="109.29" y2="286.20" stroke="#666" stroke-width="0.55" />
<line x1="112.70" y1="284.40" x2="112.70" y2="286.20" stroke="#666" stroke-width="0.55" />
<line x1="115.71" y1="284.40" x2="115.71" y2="286.20" stroke="#666" stroke-width="0.55" />
<line x1="118.40" y1="284.40" x2="118.40" y2="287.40" stroke="#555" stroke-width="0.7" />
<line x1="136.10" y1="284.40" x2="136.10" y2="286.20" stroke="#666" stroke-width="0.55" />
<line x1="146.45" y1="284.40" x2="146.45" y2="286.20" stroke="#666" stroke-width="0.55" />
<text x="54.10" y="272.89" font-size="8.2" text-anchor="end" fill="#262626" textLength="18.40" lengthAdjust="spacingAndGlyphs" >1000</text>
<text x="54.10" y="287.50" font-size="8.2" text-anchor="end" fill="#262626" textLength="4.20" lengthAdjust="spacingAndGlyphs" >1</text>
<clipPath id="bc0_1"><rect x="59.60" y="292.80" width="87.20" height="25.70"/></clipPath>
<g clip-path="url(#bc0_1)">
<polyline points="69.44,299.60 77.30,301.16 83.00,303.16 88.49,306.57 95.63,312.22 101.70,312.32 109.29,313.00 117.88,314.31 125.30,313.00 132.69,316.21 139.67,314.80 146.45,315.09" fill="none" stroke="#b5e1f0" stroke-width="2.2" stroke-linejoin="round" stroke-linecap="square" />
<polyline points="69.44,299.60 77.30,301.16 83.00,303.16 88.49,306.57 95.63,312.22 101.70,312.32 109.29,313.00 117.88,314.31 125.30,313.00 132.69,316.21 139.67,314.80 146.45,315.09" fill="none" stroke="#5590b3" stroke-width="0.95" stroke-linejoin="round" stroke-linecap="square" />
<polyline points="69.44,302.48 77.30,301.16 83.00,303.16 88.49,306.57 95.63,312.22 101.70,312.32 109.29,313.00 117.88,314.31 125.30,313.00 132.69,316.21 139.67,316.89 146.45,318.60" fill="none" stroke="#2a2a2a" stroke-width="1.05" stroke-linejoin="round" stroke-linecap="square" />
</g>
<line x1="59.60" y1="294.80" x2="59.60" y2="318.50" stroke="#8c8c8c" stroke-width="0.8" />
<line x1="59.60" y1="318.50" x2="146.80" y2="318.50" stroke="#8c8c8c" stroke-width="0.8" />
<line x1="56.90" y1="318.50" x2="59.60" y2="318.50" stroke="#555" stroke-width="0.7" />
<line x1="56.90" y1="303.89" x2="59.60" y2="303.89" stroke="#555" stroke-width="0.7" />
<line x1="59.60" y1="318.50" x2="59.60" y2="321.50" stroke="#555" stroke-width="0.7" />
<line x1="77.30" y1="318.50" x2="77.30" y2="320.30" stroke="#666" stroke-width="0.55" />
<line x1="87.65" y1="318.50" x2="87.65" y2="320.30" stroke="#666" stroke-width="0.55" />
<line x1="95.00" y1="318.50" x2="95.00" y2="320.30" stroke="#666" stroke-width="0.55" />
<line x1="100.70" y1="318.50" x2="100.70" y2="320.30" stroke="#666" stroke-width="0.55" />
<line x1="105.36" y1="318.50" x2="105.36" y2="320.30" stroke="#666" stroke-width="0.55" />
<line x1="109.29" y1="318.50" x2="109.29" y2="320.30" stroke="#666" stroke-width="0.55" />
<line x1="112.70" y1="318.50" x2="112.70" y2="320.30" stroke="#666" stroke-width="0.55" />
<line x1="115.71" y1="318.50" x2="115.71" y2="320.30" stroke="#666" stroke-width="0.55" />
<line x1="118.40" y1="318.50" x2="118.40" y2="321.50" stroke="#555" stroke-width="0.7" />
<line x1="136.10" y1="318.50" x2="136.10" y2="320.30" stroke="#666" stroke-width="0.55" />
<line x1="146.45" y1="318.50" x2="146.45" y2="320.30" stroke="#666" stroke-width="0.55" />
<text x="54.10" y="306.99" font-size="8.2" text-anchor="end" fill="#262626" textLength="18.40" lengthAdjust="spacingAndGlyphs" >1000</text>
<text x="54.10" y="321.60" font-size="8.2" text-anchor="end" fill="#262626" textLength="4.20" lengthAdjust="spacingAndGlyphs" >1</text>
<clipPath id="bc0_2"><rect x="59.60" y="326.10" width="87.20" height="25.40"/></clipPath>
<g clip-path="url(#bc0_2)">
<polyline points="69.44,332.60 77.30,334.16 83.00,336.16 88.49,339.57 95.63,345.22 101.70,345.32 109.29,346.00 117.88,347.31 125.30,346.00 132.69,349.21 139.67,347.80 146.45,348.09" fill="none" stroke="#b5e1f0" stroke-width="2.2" stroke-linejoin="round" stroke-linecap="square" />
<polyline points="69.44,332.60 77.30,334.16 83.00,336.16 88.49,339.57 95.63,345.22 101.70,345.32 109.29,346.00 117.88,347.31 125.30,346.00 132.69,349.21 139.67,347.80 146.45,348.09" fill="none" stroke="#5590b3" stroke-width="0.95" stroke-linejoin="round" stroke-linecap="square" />
<polyline points="69.44,335.48 77.30,334.16 83.00,336.16 88.49,339.57 95.63,345.22 101.70,345.32 109.29,346.00 117.88,347.31 125.30,346.00 132.69,349.21 139.67,349.89 146.45,351.60" fill="none" stroke="#2a2a2a" stroke-width="1.05" stroke-linejoin="round" stroke-linecap="square" />
</g>
<line x1="59.60" y1="328.10" x2="59.60" y2="351.50" stroke="#8c8c8c" stroke-width="0.8" />
<line x1="59.60" y1="351.50" x2="146.80" y2="351.50" stroke="#8c8c8c" stroke-width="0.8" />
<line x1="56.90" y1="351.50" x2="59.60" y2="351.50" stroke="#555" stroke-width="0.7" />
<line x1="56.90" y1="336.89" x2="59.60" y2="336.89" stroke="#555" stroke-width="0.7" />
<line x1="59.60" y1="351.50" x2="59.60" y2="354.50" stroke="#555" stroke-width="0.7" />
<line x1="77.30" y1="351.50" x2="77.30" y2="353.30" stroke="#666" stroke-width="0.55" />
<line x1="87.65" y1="351.50" x2="87.65" y2="353.30" stroke="#666" stroke-width="0.55" />
<line x1="95.00" y1="351.50" x2="95.00" y2="353.30" stroke="#666" stroke-width="0.55" />
<line x1="100.70" y1="351.50" x2="100.70" y2="353.30" stroke="#666" stroke-width="0.55" />
<line x1="105.36" y1="351.50" x2="105.36" y2="353.30" stroke="#666" stroke-width="0.55" />
<line x1="109.29" y1="351.50" x2="109.29" y2="353.30" stroke="#666" stroke-width="0.55" />
<line x1="112.70" y1="351.50" x2="112.70" y2="353.30" stroke="#666" stroke-width="0.55" />
<line x1="115.71" y1="351.50" x2="115.71" y2="353.30" stroke="#666" stroke-width="0.55" />
<line x1="118.40" y1="351.50" x2="118.40" y2="354.50" stroke="#555" stroke-width="0.7" />
<line x1="136.10" y1="351.50" x2="136.10" y2="353.30" stroke="#666" stroke-width="0.55" />
<line x1="146.45" y1="351.50" x2="146.45" y2="353.30" stroke="#666" stroke-width="0.55" />
<text x="54.10" y="339.99" font-size="8.2" text-anchor="end" fill="#262626" textLength="18.40" lengthAdjust="spacingAndGlyphs" >1000</text>
<text x="54.10" y="354.60" font-size="8.2" text-anchor="end" fill="#262626" textLength="4.20" lengthAdjust="spacingAndGlyphs" >1</text>
<clipPath id="bc0_3"><rect x="59.60" y="358.50" width="87.20" height="25.00"/></clipPath>
<g clip-path="url(#bc0_3)">
<polyline points="69.44,364.60 77.30,366.16 83.00,368.16 88.49,371.57 95.63,377.22 101.70,377.32 109.29,378.00 117.88,379.31 125.30,378.00 132.69,381.21 139.67,379.80 146.45,380.09" fill="none" stroke="#b5e1f0" stroke-width="2.2" stroke-linejoin="round" stroke-linecap="square" />
<polyline points="69.44,364.60 77.30,366.16 83.00,368.16 88.49,371.57 95.63,377.22 101.70,377.32 109.29,378.00 117.88,379.31 125.30,378.00 132.69,381.21 139.67,379.80 146.45,380.09" fill="none" stroke="#5590b3" stroke-width="0.95" stroke-linejoin="round" stroke-linecap="square" />
<polyline points="69.44,367.48 77.30,366.16 83.00,368.16 88.49,371.57 95.63,377.22 101.70,377.32 109.29,378.00 117.88,379.31 125.30,378.00 132.69,381.21 139.67,381.89 146.45,383.60" fill="none" stroke="#2a2a2a" stroke-width="1.05" stroke-linejoin="round" stroke-linecap="square" />
</g>
<line x1="59.60" y1="360.50" x2="59.60" y2="383.50" stroke="#8c8c8c" stroke-width="0.8" />
<line x1="59.60" y1="383.50" x2="146.80" y2="383.50" stroke="#8c8c8c" stroke-width="0.8" />
<line x1="56.90" y1="383.50" x2="59.60" y2="383.50" stroke="#555" stroke-width="0.7" />
<line x1="56.90" y1="368.89" x2="59.60" y2="368.89" stroke="#555" stroke-width="0.7" />
<line x1="59.60" y1="383.50" x2="59.60" y2="386.50" stroke="#555" stroke-width="0.7" />
<line x1="77.30" y1="383.50" x2="77.30" y2="385.30" stroke="#666" stroke-width="0.55" />
<line x1="87.65" y1="383.50" x2="87.65" y2="385.30" stroke="#666" stroke-width="0.55" />
<line x1="95.00" y1="383.50" x2="95.00" y2="385.30" stroke="#666" stroke-width="0.55" />
<line x1="100.70" y1="383.50" x2="100.70" y2="385.30" stroke="#666" stroke-width="0.55" />
<line x1="105.36" y1="383.50" x2="105.36" y2="385.30" stroke="#666" stroke-width="0.55" />
<line x1="109.29" y1="383.50" x2="109.29" y2="385.30" stroke="#666" stroke-width="0.55" />
<line x1="112.70" y1="383.50" x2="112.70" y2="385.30" stroke="#666" stroke-width="0.55" />
<line x1="115.71" y1="383.50" x2="115.71" y2="385.30" stroke="#666" stroke-width="0.55" />
<line x1="118.40" y1="383.50" x2="118.40" y2="386.50" stroke="#555" stroke-width="0.7" />
<line x1="136.10" y1="383.50" x2="136.10" y2="385.30" stroke="#666" stroke-width="0.55" />
<line x1="146.45" y1="383.50" x2="146.45" y2="385.30" stroke="#666" stroke-width="0.55" />
<text x="54.10" y="371.99" font-size="8.2" text-anchor="end" fill="#262626" textLength="18.40" lengthAdjust="spacingAndGlyphs" >1000</text>
<text x="54.10" y="386.60" font-size="8.2" text-anchor="end" fill="#262626" textLength="4.20" lengthAdjust="spacingAndGlyphs" >1</text>
<clipPath id="bc0_4"><rect x="59.60" y="390.70" width="87.20" height="24.70"/></clipPath>
<g clip-path="url(#bc0_4)">
<polyline points="69.44,396.50 77.30,398.06 83.00,400.06 88.49,403.47 95.63,409.12 101.70,409.22 109.29,409.90 117.88,411.21 125.30,409.90 132.69,413.11 139.67,411.70 146.45,411.99" fill="none" stroke="#b5e1f0" stroke-width="2.2" stroke-linejoin="round" stroke-linecap="square" />
<polyline points="69.44,396.50 77.30,398.06 83.00,400.06 88.49,403.47 95.63,409.12 101.70,409.22 109.29,409.90 117.88,411.21 125.30,409.90 132.69,413.11 139.67,411.70 146.45,411.99" fill="none" stroke="#5590b3" stroke-width="0.95" stroke-linejoin="round" stroke-linecap="square" />
<polyline points="69.44,399.38 77.30,398.06 83.00,400.06 88.49,403.47 95.63,409.12 101.70,409.22 109.29,409.90 117.88,411.21 125.30,409.90 132.69,413.11 139.67,413.79 146.45,415.50" fill="none" stroke="#2a2a2a" stroke-width="1.05" stroke-linejoin="round" stroke-linecap="square" />
</g>
<line x1="59.60" y1="392.70" x2="59.60" y2="415.40" stroke="#8c8c8c" stroke-width="0.8" />
<line x1="59.60" y1="415.40" x2="146.80" y2="415.40" stroke="#8c8c8c" stroke-width="0.8" />
<line x1="56.90" y1="415.40" x2="59.60" y2="415.40" stroke="#555" stroke-width="0.7" />
<line x1="56.90" y1="400.79" x2="59.60" y2="400.79" stroke="#555" stroke-width="0.7" />
<line x1="59.60" y1="415.40" x2="59.60" y2="418.40" stroke="#555" stroke-width="0.7" />
<line x1="77.30" y1="415.40" x2="77.30" y2="417.20" stroke="#666" stroke-width="0.55" />
<line x1="87.65" y1="415.40" x2="87.65" y2="417.20" stroke="#666" stroke-width="0.55" />
<line x1="95.00" y1="415.40" x2="95.00" y2="417.20" stroke="#666" stroke-width="0.55" />
<line x1="100.70" y1="415.40" x2="100.70" y2="417.20" stroke="#666" stroke-width="0.55" />
<line x1="105.36" y1="415.40" x2="105.36" y2="417.20" stroke="#666" stroke-width="0.55" />
<line x1="109.29" y1="415.40" x2="109.29" y2="417.20" stroke="#666" stroke-width="0.55" />
<line x1="112.70" y1="415.40" x2="112.70" y2="417.20" stroke="#666" stroke-width="0.55" />
<line x1="115.71" y1="415.40" x2="115.71" y2="417.20" stroke="#666" stroke-width="0.55" />
<line x1="118.40" y1="415.40" x2="118.40" y2="418.40" stroke="#555" stroke-width="0.7" />
<line x1="136.10" y1="415.40" x2="136.10" y2="417.20" stroke="#666" stroke-width="0.55" />
<line x1="146.45" y1="415.40" x2="146.45" y2="417.20" stroke="#666" stroke-width="0.55" />
<text x="54.10" y="403.89" font-size="8.2" text-anchor="end" fill="#262626" textLength="18.40" lengthAdjust="spacingAndGlyphs" >1000</text>
<text x="54.10" y="418.50" font-size="8.2" text-anchor="end" fill="#262626" textLength="4.20" lengthAdjust="spacingAndGlyphs" >1</text>
<clipPath id="bc0_5"><rect x="59.60" y="422.70" width="87.20" height="24.80"/></clipPath>
<g clip-path="url(#bc0_5)">
<polyline points="69.44,428.60 77.30,430.16 83.00,432.16 88.49,435.57 95.63,441.22 101.70,441.32 109.29,442.00 117.88,443.31 125.30,442.00 132.69,445.21 139.67,443.80 146.45,444.09" fill="none" stroke="#b5e1f0" stroke-width="2.2" stroke-linejoin="round" stroke-linecap="square" />
<polyline points="69.44,428.60 77.30,430.16 83.00,432.16 88.49,435.57 95.63,441.22 101.70,441.32 109.29,442.00 117.88,443.31 125.30,442.00 132.69,445.21 139.67,443.80 146.45,444.09" fill="none" stroke="#5590b3" stroke-width="0.95" stroke-linejoin="round" stroke-linecap="square" />
<polyline points="69.44,431.48 77.30,430.16 83.00,432.16 88.49,435.57 95.63,441.22 101.70,441.32 109.29,442.00 117.88,443.31 125.30,442.00 132.69,445.21 139.67,445.89 146.45,447.60" fill="none" stroke="#2a2a2a" stroke-width="1.05" stroke-linejoin="round" stroke-linecap="square" />
</g>
<line x1="59.60" y1="424.70" x2="59.60" y2="447.50" stroke="#8c8c8c" stroke-width="0.8" />
<line x1="59.60" y1="447.50" x2="146.80" y2="447.50" stroke="#8c8c8c" stroke-width="0.8" />
<line x1="56.90" y1="447.50" x2="59.60" y2="447.50" stroke="#555" stroke-width="0.7" />
<line x1="56.90" y1="432.89" x2="59.60" y2="432.89" stroke="#555" stroke-width="0.7" />
<line x1="59.60" y1="447.50" x2="59.60" y2="450.50" stroke="#555" stroke-width="0.7" />
<line x1="77.30" y1="447.50" x2="77.30" y2="449.30" stroke="#666" stroke-width="0.55" />
<line x1="87.65" y1="447.50" x2="87.65" y2="449.30" stroke="#666" stroke-width="0.55" />
<line x1="95.00" y1="447.50" x2="95.00" y2="449.30" stroke="#666" stroke-width="0.55" />
<line x1="100.70" y1="447.50" x2="100.70" y2="449.30" stroke="#666" stroke-width="0.55" />
<line x1="105.36" y1="447.50" x2="105.36" y2="449.30" stroke="#666" stroke-width="0.55" />
<line x1="109.29" y1="447.50" x2="109.29" y2="449.30" stroke="#666" stroke-width="0.55" />
<line x1="112.70" y1="447.50" x2="112.70" y2="449.30" stroke="#666" stroke-width="0.55" />
<line x1="115.71" y1="447.50" x2="115.71" y2="449.30" stroke="#666" stroke-width="0.55" />
<line x1="118.40" y1="447.50" x2="118.40" y2="450.50" stroke="#555" stroke-width="0.7" />
<line x1="136.10" y1="447.50" x2="136.10" y2="449.30" stroke="#666" stroke-width="0.55" />
<line x1="146.45" y1="447.50" x2="146.45" y2="449.30" stroke="#666" stroke-width="0.55" />
<text x="54.10" y="435.99" font-size="8.2" text-anchor="end" fill="#262626" textLength="18.40" lengthAdjust="spacingAndGlyphs" >1000</text>
<text x="54.10" y="450.60" font-size="8.2" text-anchor="end" fill="#262626" textLength="4.20" lengthAdjust="spacingAndGlyphs" >1</text>
<text x="59.60" y="458.90" font-size="8.2" text-anchor="middle" fill="#262626" textLength="10.80" lengthAdjust="spacingAndGlyphs" >0.1</text>
<text x="118.40" y="458.90" font-size="8.2" text-anchor="middle" fill="#262626" textLength="4.20" lengthAdjust="spacingAndGlyphs" >1</text>
<text x="207.37" y="253.80" font-size="9.9" text-anchor="middle" fill="#262626" textLength="24.80" lengthAdjust="spacingAndGlyphs" >21:00</text>
<clipPath id="bc1_0"><rect x="163.77" y="259.60" width="87.20" height="24.80"/></clipPath>
<g clip-path="url(#bc1_0)">
<polyline points="173.61,267.06 181.47,267.79 187.17,269.30 192.66,271.69 199.80,277.58 205.87,278.31 213.46,279.04 222.05,279.77 229.47,278.60 236.86,281.92 243.84,281.92 250.62,282.60" fill="none" stroke="#b5e1f0" stroke-width="2.2" stroke-linejoin="round" stroke-linecap="square" />
<polyline points="173.61,267.06 181.47,267.79 187.17,269.30 192.66,271.69 199.80,277.58 205.87,278.31 213.46,279.04 222.05,279.77 229.47,278.60 236.86,281.92 243.84,281.92 250.62,282.60" fill="none" stroke="#5590b3" stroke-width="0.95" stroke-linejoin="round" stroke-linecap="square" />
<polyline points="173.61,263.90 181.47,264.48 187.17,266.14 192.66,268.72 199.80,273.98 205.87,275.29 213.46,277.09 222.05,278.60 229.47,278.60 236.86,282.31 243.84,283.72 250.62,285.13" fill="none" stroke="#2a2a2a" stroke-width="1.05" stroke-linejoin="round" stroke-linecap="square" />
</g>
<line x1="163.77" y1="261.60" x2="163.77" y2="284.40" stroke="#8c8c8c" stroke-width="0.8" />
<line x1="163.77" y1="284.40" x2="250.97" y2="284.40" stroke="#8c8c8c" stroke-width="0.8" />
<line x1="161.07" y1="284.40" x2="163.77" y2="284.40" stroke="#555" stroke-width="0.7" />
<line x1="161.07" y1="269.79" x2="163.77" y2="269.79" stroke="#555" stroke-width="0.7" />
<line x1="163.77" y1="284.40" x2="163.77" y2="287.40" stroke="#555" stroke-width="0.7" />
<line x1="181.47" y1="284.40" x2="181.47" y2="286.20" stroke="#666" stroke-width="0.55" />
<line x1="191.82" y1="284.40" x2="191.82" y2="286.20" stroke="#666" stroke-width="0.55" />
<line x1="199.17" y1="284.40" x2="199.17" y2="286.20" stroke="#666" stroke-width="0.55" />
<line x1="204.87" y1="284.40" x2="204.87" y2="286.20" stroke="#666" stroke-width="0.55" />
<line x1="209.53" y1="284.40" x2="209.53" y2="286.20" stroke="#666" stroke-width="0.55" />
<line x1="213.46" y1="284.40" x2="213.46" y2="286.20" stroke="#666" stroke-width="0.55" />
<line x1="216.87" y1="284.40" x2="216.87" y2="286.20" stroke="#666" stroke-width="0.55" />
<line x1="219.88" y1="284.40" x2="219.88" y2="286.20" stroke="#666" stroke-width="0.55" />
<line x1="222.57" y1="284.40" x2="222.57" y2="287.40" stroke="#555" stroke-width="0.7" />
<line x1="240.27" y1="284.40" x2="240.27" y2="286.20" stroke="#666" stroke-width="0.55" />
<line x1="250.62" y1="284.40" x2="250.62" y2="286.20" stroke="#666" stroke-width="0.55" />
<clipPath id="bc1_1"><rect x="163.77" y="292.80" width="87.20" height="25.70"/></clipPath>
<g clip-path="url(#bc1_1)">
<polyline points="173.61,299.99 181.47,300.72 187.17,302.23 192.66,304.62 199.80,310.75 205.87,311.71 213.46,312.68 222.05,313.64 229.47,312.70 236.86,316.02 243.84,316.02 250.62,316.70" fill="none" stroke="#b5e1f0" stroke-width="2.2" stroke-linejoin="round" stroke-linecap="square" />
<polyline points="173.61,299.99 181.47,300.72 187.17,302.23 192.66,304.62 199.80,310.75 205.87,311.71 213.46,312.68 222.05,313.64 229.47,312.70 236.86,316.02 243.84,316.02 250.62,316.70" fill="none" stroke="#5590b3" stroke-width="0.95" stroke-linejoin="round" stroke-linecap="square" />
<polyline points="173.61,297.02 181.47,297.61 187.17,299.26 192.66,301.84 199.80,307.30 205.87,308.81 213.46,310.81 222.05,312.51 229.47,312.70 236.86,316.41 243.84,317.82 250.62,319.23" fill="none" stroke="#2a2a2a" stroke-width="1.05" stroke-linejoin="round" stroke-linecap="square" />
</g>
<line x1="163.77" y1="294.80" x2="163.77" y2="318.50" stroke="#8c8c8c" stroke-width="0.8" />
<line x1="163.77" y1="318.50" x2="250.97" y2="318.50" stroke="#8c8c8c" stroke-width="0.8" />
<line x1="161.07" y1="318.50" x2="163.77" y2="318.50" stroke="#555" stroke-width="0.7" />
<line x1="161.07" y1="303.89" x2="163.77" y2="303.89" stroke="#555" stroke-width="0.7" />
<line x1="163.77" y1="318.50" x2="163.77" y2="321.50" stroke="#555" stroke-width="0.7" />
<line x1="181.47" y1="318.50" x2="181.47" y2="320.30" stroke="#666" stroke-width="0.55" />
<line x1="191.82" y1="318.50" x2="191.82" y2="320.30" stroke="#666" stroke-width="0.55" />
<line x1="199.17" y1="318.50" x2="199.17" y2="320.30" stroke="#666" stroke-width="0.55" />
<line x1="204.87" y1="318.50" x2="204.87" y2="320.30" stroke="#666" stroke-width="0.55" />
<line x1="209.53" y1="318.50" x2="209.53" y2="320.30" stroke="#666" stroke-width="0.55" />
<line x1="213.46" y1="318.50" x2="213.46" y2="320.30" stroke="#666" stroke-width="0.55" />
<line x1="216.87" y1="318.50" x2="216.87" y2="320.30" stroke="#666" stroke-width="0.55" />
<line x1="219.88" y1="318.50" x2="219.88" y2="320.30" stroke="#666" stroke-width="0.55" />
<line x1="222.57" y1="318.50" x2="222.57" y2="321.50" stroke="#555" stroke-width="0.7" />
<line x1="240.27" y1="318.50" x2="240.27" y2="320.30" stroke="#666" stroke-width="0.55" />
<line x1="250.62" y1="318.50" x2="250.62" y2="320.30" stroke="#666" stroke-width="0.55" />
<clipPath id="bc1_2"><rect x="163.77" y="326.10" width="87.20" height="25.40"/></clipPath>
<g clip-path="url(#bc1_2)">
<polyline points="173.61,333.48 181.47,334.21 187.17,335.72 192.66,338.11 199.80,344.14 205.87,345.00 213.46,345.87 222.05,346.74 229.47,345.70 236.86,349.02 243.84,349.02 250.62,349.70" fill="none" stroke="#b5e1f0" stroke-width="2.2" stroke-linejoin="round" stroke-linecap="square" />
<polyline points="173.61,333.48 181.47,334.21 187.17,335.72 192.66,338.11 199.80,344.14 205.87,345.00 213.46,345.87 222.05,346.74 229.47,345.70 236.86,349.02 243.84,349.02 250.62,349.70" fill="none" stroke="#5590b3" stroke-width="0.95" stroke-linejoin="round" stroke-linecap="square" />
<polyline points="173.61,331.39 181.47,331.97 187.17,333.63 192.66,336.21 199.80,341.39 205.87,342.63 213.46,344.35 222.05,345.78 229.47,345.70 236.86,349.41 243.84,350.82 250.62,352.23" fill="none" stroke="#2a2a2a" stroke-width="1.05" stroke-linejoin="round" stroke-linecap="square" />
</g>
<line x1="163.77" y1="328.10" x2="163.77" y2="351.50" stroke="#8c8c8c" stroke-width="0.8" />
<line x1="163.77" y1="351.50" x2="250.97" y2="351.50" stroke="#8c8c8c" stroke-width="0.8" />
<line x1="161.07" y1="351.50" x2="163.77" y2="351.50" stroke="#555" stroke-width="0.7" />
<line x1="161.07" y1="336.89" x2="163.77" y2="336.89" stroke="#555" stroke-width="0.7" />
<line x1="163.77" y1="351.50" x2="163.77" y2="354.50" stroke="#555" stroke-width="0.7" />
<line x1="181.47" y1="351.50" x2="181.47" y2="353.30" stroke="#666" stroke-width="0.55" />
<line x1="191.82" y1="351.50" x2="191.82" y2="353.30" stroke="#666" stroke-width="0.55" />
<line x1="199.17" y1="351.50" x2="199.17" y2="353.30" stroke="#666" stroke-width="0.55" />
<line x1="204.87" y1="351.50" x2="204.87" y2="353.30" stroke="#666" stroke-width="0.55" />
<line x1="209.53" y1="351.50" x2="209.53" y2="353.30" stroke="#666" stroke-width="0.55" />
<line x1="213.46" y1="351.50" x2="213.46" y2="353.30" stroke="#666" stroke-width="0.55" />
<line x1="216.87" y1="351.50" x2="216.87" y2="353.30" stroke="#666" stroke-width="0.55" />
<line x1="219.88" y1="351.50" x2="219.88" y2="353.30" stroke="#666" stroke-width="0.55" />
<line x1="222.57" y1="351.50" x2="222.57" y2="354.50" stroke="#555" stroke-width="0.7" />
<line x1="240.27" y1="351.50" x2="240.27" y2="353.30" stroke="#666" stroke-width="0.55" />
<line x1="250.62" y1="351.50" x2="250.62" y2="353.30" stroke="#666" stroke-width="0.55" />
<clipPath id="bc1_3"><rect x="163.77" y="358.50" width="87.20" height="25.00"/></clipPath>
<g clip-path="url(#bc1_3)">
<polyline points="173.61,365.82 181.47,366.55 187.17,368.06 192.66,370.45 199.80,376.41 205.87,377.21 213.46,378.01 222.05,378.81 229.47,377.70 236.86,381.02 243.84,381.02 250.62,381.70" fill="none" stroke="#b5e1f0" stroke-width="2.2" stroke-linejoin="round" stroke-linecap="square" />
<polyline points="173.61,365.82 181.47,366.55 187.17,368.06 192.66,370.45 199.80,376.41 205.87,377.21 213.46,378.01 222.05,378.81 229.47,377.70 236.86,381.02 243.84,381.02 250.62,381.70" fill="none" stroke="#5590b3" stroke-width="0.95" stroke-linejoin="round" stroke-linecap="square" />
<polyline points="173.61,363.92 181.47,364.51 187.17,366.16 192.66,368.74 199.80,373.82 205.87,374.95 213.46,376.57 222.05,377.89 229.47,377.70 236.86,381.41 243.84,382.82 250.62,384.23" fill="none" stroke="#2a2a2a" stroke-width="1.05" stroke-linejoin="round" stroke-linecap="square" />
</g>
<line x1="163.77" y1="360.50" x2="163.77" y2="383.50" stroke="#8c8c8c" stroke-width="0.8" />
<line x1="163.77" y1="383.50" x2="250.97" y2="383.50" stroke="#8c8c8c" stroke-width="0.8" />
<line x1="161.07" y1="383.50" x2="163.77" y2="383.50" stroke="#555" stroke-width="0.7" />
<line x1="161.07" y1="368.89" x2="163.77" y2="368.89" stroke="#555" stroke-width="0.7" />
<line x1="163.77" y1="383.50" x2="163.77" y2="386.50" stroke="#555" stroke-width="0.7" />
<line x1="181.47" y1="383.50" x2="181.47" y2="385.30" stroke="#666" stroke-width="0.55" />
<line x1="191.82" y1="383.50" x2="191.82" y2="385.30" stroke="#666" stroke-width="0.55" />
<line x1="199.17" y1="383.50" x2="199.17" y2="385.30" stroke="#666" stroke-width="0.55" />
<line x1="204.87" y1="383.50" x2="204.87" y2="385.30" stroke="#666" stroke-width="0.55" />
<line x1="209.53" y1="383.50" x2="209.53" y2="385.30" stroke="#666" stroke-width="0.55" />
<line x1="213.46" y1="383.50" x2="213.46" y2="385.30" stroke="#666" stroke-width="0.55" />
<line x1="216.87" y1="383.50" x2="216.87" y2="385.30" stroke="#666" stroke-width="0.55" />
<line x1="219.88" y1="383.50" x2="219.88" y2="385.30" stroke="#666" stroke-width="0.55" />
<line x1="222.57" y1="383.50" x2="222.57" y2="386.50" stroke="#555" stroke-width="0.7" />
<line x1="240.27" y1="383.50" x2="240.27" y2="385.30" stroke="#666" stroke-width="0.55" />
<line x1="250.62" y1="383.50" x2="250.62" y2="385.30" stroke="#666" stroke-width="0.55" />
<clipPath id="bc1_4"><rect x="163.77" y="390.70" width="87.20" height="24.70"/></clipPath>
<g clip-path="url(#bc1_4)">
<polyline points="173.61,397.92 181.47,398.65 187.17,400.16 192.66,402.54 199.80,408.47 205.87,409.22 213.46,409.98 222.05,410.74 229.47,409.60 236.86,412.92 243.84,412.92 250.62,413.60" fill="none" stroke="#b5e1f0" stroke-width="2.2" stroke-linejoin="round" stroke-linecap="square" />
<polyline points="173.61,397.92 181.47,398.65 187.17,400.16 192.66,402.54 199.80,408.47 205.87,409.22 213.46,409.98 222.05,410.74 229.47,409.60 236.86,412.92 243.84,412.92 250.62,413.60" fill="none" stroke="#5590b3" stroke-width="0.95" stroke-linejoin="round" stroke-linecap="square" />
<polyline points="173.61,396.31 181.47,396.89 187.17,398.55 192.66,401.13 199.80,406.11 205.87,407.14 213.46,408.66 222.05,409.89 229.47,409.60 236.86,413.31 243.84,414.72 250.62,416.13" fill="none" stroke="#2a2a2a" stroke-width="1.05" stroke-linejoin="round" stroke-linecap="square" />
</g>
<line x1="163.77" y1="392.70" x2="163.77" y2="415.40" stroke="#8c8c8c" stroke-width="0.8" />
<line x1="163.77" y1="415.40" x2="250.97" y2="415.40" stroke="#8c8c8c" stroke-width="0.8" />
<line x1="161.07" y1="415.40" x2="163.77" y2="415.40" stroke="#555" stroke-width="0.7" />
<line x1="161.07" y1="400.79" x2="163.77" y2="400.79" stroke="#555" stroke-width="0.7" />
<line x1="163.77" y1="415.40" x2="163.77" y2="418.40" stroke="#555" stroke-width="0.7" />
<line x1="181.47" y1="415.40" x2="181.47" y2="417.20" stroke="#666" stroke-width="0.55" />
<line x1="191.82" y1="415.40" x2="191.82" y2="417.20" stroke="#666" stroke-width="0.55" />
<line x1="199.17" y1="415.40" x2="199.17" y2="417.20" stroke="#666" stroke-width="0.55" />
<line x1="204.87" y1="415.40" x2="204.87" y2="417.20" stroke="#666" stroke-width="0.55" />
<line x1="209.53" y1="415.40" x2="209.53" y2="417.20" stroke="#666" stroke-width="0.55" />
<line x1="213.46" y1="415.40" x2="213.46" y2="417.20" stroke="#666" stroke-width="0.55" />
<line x1="216.87" y1="415.40" x2="216.87" y2="417.20" stroke="#666" stroke-width="0.55" />
<line x1="219.88" y1="415.40" x2="219.88" y2="417.20" stroke="#666" stroke-width="0.55" />
<line x1="222.57" y1="415.40" x2="222.57" y2="418.40" stroke="#555" stroke-width="0.7" />
<line x1="240.27" y1="415.40" x2="240.27" y2="417.20" stroke="#666" stroke-width="0.55" />
<line x1="250.62" y1="415.40" x2="250.62" y2="417.20" stroke="#666" stroke-width="0.55" />
<clipPath id="bc1_5"><rect x="163.77" y="422.70" width="87.20" height="24.80"/></clipPath>
<g clip-path="url(#bc1_5)">
<polyline points="173.61,430.02 181.47,430.75 187.17,432.26 192.66,434.64 199.80,440.57 205.87,441.32 213.46,442.08 222.05,442.84 229.47,441.70 236.86,445.02 243.84,445.02 250.62,445.70" fill="none" stroke="#b5e1f0" stroke-width="2.2" stroke-linejoin="round" stroke-linecap="square" />
<polyline points="173.61,430.02 181.47,430.75 187.17,432.26 192.66,434.64 199.80,440.57 205.87,441.32 213.46,442.08 222.05,442.84 229.47,441.70 236.86,445.02 243.84,445.02 250.62,445.70" fill="none" stroke="#5590b3" stroke-width="0.95" stroke-linejoin="round" stroke-linecap="square" />
<polyline points="173.61,428.41 181.47,428.99 187.17,430.65 192.66,433.23 199.80,438.21 205.87,439.24 213.46,440.76 222.05,441.99 229.47,441.70 236.86,445.41 243.84,446.82 250.62,448.23" fill="none" stroke="#2a2a2a" stroke-width="1.05" stroke-linejoin="round" stroke-linecap="square" />
</g>
<line x1="163.77" y1="424.70" x2="163.77" y2="447.50" stroke="#8c8c8c" stroke-width="0.8" />
<line x1="163.77" y1="447.50" x2="250.97" y2="447.50" stroke="#8c8c8c" stroke-width="0.8" />
<line x1="161.07" y1="447.50" x2="163.77" y2="447.50" stroke="#555" stroke-width="0.7" />
<line x1="161.07" y1="432.89" x2="163.77" y2="432.89" stroke="#555" stroke-width="0.7" />
<line x1="163.77" y1="447.50" x2="163.77" y2="450.50" stroke="#555" stroke-width="0.7" />
<line x1="181.47" y1="447.50" x2="181.47" y2="449.30" stroke="#666" stroke-width="0.55" />
<line x1="191.82" y1="447.50" x2="191.82" y2="449.30" stroke="#666" stroke-width="0.55" />
<line x1="199.17" y1="447.50" x2="199.17" y2="449.30" stroke="#666" stroke-width="0.55" />
<line x1="204.87" y1="447.50" x2="204.87" y2="449.30" stroke="#666" stroke-width="0.55" />
<line x1="209.53" y1="447.50" x2="209.53" y2="449.30" stroke="#666" stroke-width="0.55" />
<line x1="213.46" y1="447.50" x2="213.46" y2="449.30" stroke="#666" stroke-width="0.55" />
<line x1="216.87" y1="447.50" x2="216.87" y2="449.30" stroke="#666" stroke-width="0.55" />
<line x1="219.88" y1="447.50" x2="219.88" y2="449.30" stroke="#666" stroke-width="0.55" />
<line x1="222.57" y1="447.50" x2="222.57" y2="450.50" stroke="#555" stroke-width="0.7" />
<line x1="240.27" y1="447.50" x2="240.27" y2="449.30" stroke="#666" stroke-width="0.55" />
<line x1="250.62" y1="447.50" x2="250.62" y2="449.30" stroke="#666" stroke-width="0.55" />
<text x="163.77" y="458.90" font-size="8.2" text-anchor="middle" fill="#262626" textLength="10.80" lengthAdjust="spacingAndGlyphs" >0.1</text>
<text x="222.57" y="458.90" font-size="8.2" text-anchor="middle" fill="#262626" textLength="4.20" lengthAdjust="spacingAndGlyphs" >1</text>
<text x="311.54" y="253.80" font-size="9.9" text-anchor="middle" fill="#262626" textLength="24.80" lengthAdjust="spacingAndGlyphs" >00:00</text>
<clipPath id="bc2_0"><rect x="267.94" y="259.60" width="87.20" height="24.80"/></clipPath>
<g clip-path="url(#bc2_0)">
<polyline points="277.78,269.21 285.64,270.08 291.34,271.25 296.83,273.30 303.97,278.31 310.04,278.60 317.63,279.29 326.22,279.77 333.64,278.60 341.03,281.92 348.01,281.92 354.79,282.60" fill="none" stroke="#b5e1f0" stroke-width="2.2" stroke-linejoin="round" stroke-linecap="square" />
<polyline points="277.78,269.21 285.64,270.08 291.34,271.25 296.83,273.30 303.97,278.31 310.04,278.60 317.63,279.29 326.22,279.77 333.64,278.60 341.03,281.92 348.01,281.92 354.79,282.60" fill="none" stroke="#5590b3" stroke-width="0.95" stroke-linejoin="round" stroke-linecap="square" />
<polyline points="277.78,263.51 285.64,264.29 291.34,265.70 296.83,268.18 303.97,273.82 310.04,274.69 317.63,276.53 326.22,278.57 333.64,278.60 341.03,282.31 348.01,283.72 354.79,285.13" fill="none" stroke="#2a2a2a" stroke-width="1.05" stroke-linejoin="round" stroke-linecap="square" />
</g>
<line x1="267.94" y1="261.60" x2="267.94" y2="284.40" stroke="#8c8c8c" stroke-width="0.8" />
<line x1="267.94" y1="284.40" x2="355.14" y2="284.40" stroke="#8c8c8c" stroke-width="0.8" />
<line x1="265.24" y1="284.40" x2="267.94" y2="284.40" stroke="#555" stroke-width="0.7" />
<line x1="265.24" y1="269.79" x2="267.94" y2="269.79" stroke="#555" stroke-width="0.7" />
<line x1="267.94" y1="284.40" x2="267.94" y2="287.40" stroke="#555" stroke-width="0.7" />
<line x1="285.64" y1="284.40" x2="285.64" y2="286.20" stroke="#666" stroke-width="0.55" />
<line x1="295.99" y1="284.40" x2="295.99" y2="286.20" stroke="#666" stroke-width="0.55" />
<line x1="303.34" y1="284.40" x2="303.34" y2="286.20" stroke="#666" stroke-width="0.55" />
<line x1="309.04" y1="284.40" x2="309.04" y2="286.20" stroke="#666" stroke-width="0.55" />
<line x1="313.70" y1="284.40" x2="313.70" y2="286.20" stroke="#666" stroke-width="0.55" />
<line x1="317.63" y1="284.40" x2="317.63" y2="286.20" stroke="#666" stroke-width="0.55" />
<line x1="321.04" y1="284.40" x2="321.04" y2="286.20" stroke="#666" stroke-width="0.55" />
<line x1="324.05" y1="284.40" x2="324.05" y2="286.20" stroke="#666" stroke-width="0.55" />
<line x1="326.74" y1="284.40" x2="326.74" y2="287.40" stroke="#555" stroke-width="0.7" />
<line x1="344.44" y1="284.40" x2="344.44" y2="286.20" stroke="#666" stroke-width="0.55" />
<line x1="354.79" y1="284.40" x2="354.79" y2="286.20" stroke="#666" stroke-width="0.55" />
<clipPath id="bc2_1"><rect x="267.94" y="292.80" width="87.20" height="25.70"/></clipPath>
<g clip-path="url(#bc2_1)">
<polyline points="277.78,301.80 285.64,302.67 291.34,303.84 296.83,305.89 303.97,311.20 310.04,311.80 317.63,312.78 326.22,313.57 333.64,312.70 341.03,316.02 348.01,316.02 354.79,316.70" fill="none" stroke="#b5e1f0" stroke-width="2.2" stroke-linejoin="round" stroke-linecap="square" />
<polyline points="277.78,301.80 285.64,302.67 291.34,303.84 296.83,305.89 303.97,311.20 310.04,311.80 317.63,312.78 326.22,313.57 333.64,312.70 341.03,316.02 348.01,316.02 354.79,316.70" fill="none" stroke="#5590b3" stroke-width="0.95" stroke-linejoin="round" stroke-linecap="square" />
<polyline points="277.78,296.73 285.64,297.51 291.34,298.92 296.83,301.41 303.97,307.22 310.04,308.26 317.63,310.28 326.22,312.49 333.64,312.70 341.03,316.41 348.01,318.50 354.79,320.94" fill="none" stroke="#2a2a2a" stroke-width="1.05" stroke-linejoin="round" stroke-linecap="square" />
</g>
<line x1="267.94" y1="294.80" x2="267.94" y2="318.50" stroke="#8c8c8c" stroke-width="0.8" />
<line x1="267.94" y1="318.50" x2="355.14" y2="318.50" stroke="#8c8c8c" stroke-width="0.8" />
<line x1="265.24" y1="318.50" x2="267.94" y2="318.50" stroke="#555" stroke-width="0.7" />
<line x1="265.24" y1="303.89" x2="267.94" y2="303.89" stroke="#555" stroke-width="0.7" />
<line x1="267.94" y1="318.50" x2="267.94" y2="321.50" stroke="#555" stroke-width="0.7" />
<line x1="285.64" y1="318.50" x2="285.64" y2="320.30" stroke="#666" stroke-width="0.55" />
<line x1="295.99" y1="318.50" x2="295.99" y2="320.30" stroke="#666" stroke-width="0.55" />
<line x1="303.34" y1="318.50" x2="303.34" y2="320.30" stroke="#666" stroke-width="0.55" />
<line x1="309.04" y1="318.50" x2="309.04" y2="320.30" stroke="#666" stroke-width="0.55" />
<line x1="313.70" y1="318.50" x2="313.70" y2="320.30" stroke="#666" stroke-width="0.55" />
<line x1="317.63" y1="318.50" x2="317.63" y2="320.30" stroke="#666" stroke-width="0.55" />
<line x1="321.04" y1="318.50" x2="321.04" y2="320.30" stroke="#666" stroke-width="0.55" />
<line x1="324.05" y1="318.50" x2="324.05" y2="320.30" stroke="#666" stroke-width="0.55" />
<line x1="326.74" y1="318.50" x2="326.74" y2="321.50" stroke="#555" stroke-width="0.7" />
<line x1="344.44" y1="318.50" x2="344.44" y2="320.30" stroke="#666" stroke-width="0.55" />
<line x1="354.79" y1="318.50" x2="354.79" y2="320.30" stroke="#666" stroke-width="0.55" />
<clipPath id="bc2_2"><rect x="267.94" y="326.10" width="87.20" height="25.40"/></clipPath>
<g clip-path="url(#bc2_2)">
<polyline points="277.78,333.92 285.64,334.80 291.34,335.96 296.83,338.01 303.97,343.50 310.04,344.27 317.63,345.43 326.22,346.40 333.64,345.70 341.03,349.02 348.01,349.02 354.79,349.70" fill="none" stroke="#b5e1f0" stroke-width="2.2" stroke-linejoin="round" stroke-linecap="square" />
<polyline points="277.78,333.92 285.64,334.80 291.34,335.96 296.83,338.01 303.97,343.50 310.04,344.27 317.63,345.43 326.22,346.40 333.64,345.70 341.03,349.02 348.01,349.02 354.79,349.70" fill="none" stroke="#5590b3" stroke-width="0.95" stroke-linejoin="round" stroke-linecap="square" />
<polyline points="277.78,330.02 285.64,330.80 291.34,332.21 296.83,334.70 303.97,340.45 310.04,341.44 317.63,343.40 326.22,345.55 333.64,345.70 341.03,349.41 348.01,350.82 354.79,352.23" fill="none" stroke="#2a2a2a" stroke-width="1.05" stroke-linejoin="round" stroke-linecap="square" />
</g>
<line x1="267.94" y1="328.10" x2="267.94" y2="351.50" stroke="#8c8c8c" stroke-width="0.8" />
<line x1="267.94" y1="351.50" x2="355.14" y2="351.50" stroke="#8c8c8c" stroke-width="0.8" />
<line x1="265.24" y1="351.50" x2="267.94" y2="351.50" stroke="#555" stroke-width="0.7" />
<line x1="265.24" y1="336.89" x2="267.94" y2="336.89" stroke="#555" stroke-width="0.7" />
<line x1="267.94" y1="351.50" x2="267.94" y2="354.50" stroke="#555" stroke-width="0.7" />
<line x1="285.64" y1="351.50" x2="285.64" y2="353.30" stroke="#666" stroke-width="0.55" />
<line x1="295.99" y1="351.50" x2="295.99" y2="353.30" stroke="#666" stroke-width="0.55" />
<line x1="303.34" y1="351.50" x2="303.34" y2="353.30" stroke="#666" stroke-width="0.55" />
<line x1="309.04" y1="351.50" x2="309.04" y2="353.30" stroke="#666" stroke-width="0.55" />
<line x1="313.70" y1="351.50" x2="313.70" y2="353.30" stroke="#666" stroke-width="0.55" />
<line x1="317.63" y1="351.50" x2="317.63" y2="353.30" stroke="#666" stroke-width="0.55" />
<line x1="321.04" y1="351.50" x2="321.04" y2="353.30" stroke="#666" stroke-width="0.55" />
<line x1="324.05" y1="351.50" x2="324.05" y2="353.30" stroke="#666" stroke-width="0.55" />
<line x1="326.74" y1="351.50" x2="326.74" y2="354.50" stroke="#555" stroke-width="0.7" />
<line x1="344.44" y1="351.50" x2="344.44" y2="353.30" stroke="#666" stroke-width="0.55" />
<line x1="354.79" y1="351.50" x2="354.79" y2="353.30" stroke="#666" stroke-width="0.55" />
<clipPath id="bc2_3"><rect x="267.94" y="358.50" width="87.20" height="25.00"/></clipPath>
<g clip-path="url(#bc2_3)">
<polyline points="277.78,365.82 285.64,366.70 291.34,367.87 296.83,369.91 303.97,375.43 310.04,376.21 317.63,377.39 326.22,378.38 333.64,377.70 341.03,381.02 348.01,381.02 354.79,381.70" fill="none" stroke="#b5e1f0" stroke-width="2.2" stroke-linejoin="round" stroke-linecap="square" />
<polyline points="277.78,365.82 285.64,366.70 291.34,367.87 296.83,369.91 303.97,375.43 310.04,376.21 317.63,377.39 326.22,378.38 333.64,377.70 341.03,381.02 348.01,381.02 354.79,381.70" fill="none" stroke="#5590b3" stroke-width="0.95" stroke-linejoin="round" stroke-linecap="square" />
<polyline points="277.78,361.93 285.64,362.71 291.34,364.12 296.83,366.60 303.97,372.38 310.04,373.38 317.63,375.36 326.22,377.53 333.64,377.70 341.03,381.41 348.01,382.82 354.79,384.23" fill="none" stroke="#2a2a2a" stroke-width="1.05" stroke-linejoin="round" stroke-linecap="square" />
</g>
<line x1="267.94" y1="360.50" x2="267.94" y2="383.50" stroke="#8c8c8c" stroke-width="0.8" />
<line x1="267.94" y1="383.50" x2="355.14" y2="383.50" stroke="#8c8c8c" stroke-width="0.8" />
<line x1="265.24" y1="383.50" x2="267.94" y2="383.50" stroke="#555" stroke-width="0.7" />
<line x1="265.24" y1="368.89" x2="267.94" y2="368.89" stroke="#555" stroke-width="0.7" />
<line x1="267.94" y1="383.50" x2="267.94" y2="386.50" stroke="#555" stroke-width="0.7" />
<line x1="285.64" y1="383.50" x2="285.64" y2="385.30" stroke="#666" stroke-width="0.55" />
<line x1="295.99" y1="383.50" x2="295.99" y2="385.30" stroke="#666" stroke-width="0.55" />
<line x1="303.34" y1="383.50" x2="303.34" y2="385.30" stroke="#666" stroke-width="0.55" />
<line x1="309.04" y1="383.50" x2="309.04" y2="385.30" stroke="#666" stroke-width="0.55" />
<line x1="313.70" y1="383.50" x2="313.70" y2="385.30" stroke="#666" stroke-width="0.55" />
<line x1="317.63" y1="383.50" x2="317.63" y2="385.30" stroke="#666" stroke-width="0.55" />
<line x1="321.04" y1="383.50" x2="321.04" y2="385.30" stroke="#666" stroke-width="0.55" />
<line x1="324.05" y1="383.50" x2="324.05" y2="385.30" stroke="#666" stroke-width="0.55" />
<line x1="326.74" y1="383.50" x2="326.74" y2="386.50" stroke="#555" stroke-width="0.7" />
<line x1="344.44" y1="383.50" x2="344.44" y2="385.30" stroke="#666" stroke-width="0.55" />
<line x1="354.79" y1="383.50" x2="354.79" y2="385.30" stroke="#666" stroke-width="0.55" />
<clipPath id="bc2_4"><rect x="267.94" y="390.70" width="87.20" height="24.70"/></clipPath>
<g clip-path="url(#bc2_4)">
<polyline points="277.78,396.89 285.64,397.77 291.34,398.94 296.83,400.98 303.97,406.66 310.04,407.62 317.63,408.96 326.22,410.11 333.64,409.60 341.03,412.92 348.01,412.92 354.79,413.60" fill="none" stroke="#b5e1f0" stroke-width="2.2" stroke-linejoin="round" stroke-linecap="square" />
<polyline points="277.78,396.89 285.64,397.77 291.34,398.94 296.83,400.98 303.97,406.66 310.04,407.62 317.63,408.96 326.22,410.11 333.64,409.60 341.03,412.92 348.01,412.92 354.79,413.60" fill="none" stroke="#5590b3" stroke-width="0.95" stroke-linejoin="round" stroke-linecap="square" />
<polyline points="277.78,393.39 285.64,394.17 291.34,395.58 296.83,398.06 303.97,403.93 310.04,405.02 317.63,407.08 326.22,409.34 333.64,409.60 341.03,413.31 348.01,414.72 354.79,416.13" fill="none" stroke="#2a2a2a" stroke-width="1.05" stroke-linejoin="round" stroke-linecap="square" />
</g>
<line x1="267.94" y1="392.70" x2="267.94" y2="415.40" stroke="#8c8c8c" stroke-width="0.8" />
<line x1="267.94" y1="415.40" x2="355.14" y2="415.40" stroke="#8c8c8c" stroke-width="0.8" />
<line x1="265.24" y1="415.40" x2="267.94" y2="415.40" stroke="#555" stroke-width="0.7" />
<line x1="265.24" y1="400.79" x2="267.94" y2="400.79" stroke="#555" stroke-width="0.7" />
<line x1="267.94" y1="415.40" x2="267.94" y2="418.40" stroke="#555" stroke-width="0.7" />
<line x1="285.64" y1="415.40" x2="285.64" y2="417.20" stroke="#666" stroke-width="0.55" />
<line x1="295.99" y1="415.40" x2="295.99" y2="417.20" stroke="#666" stroke-width="0.55" />
<line x1="303.34" y1="415.40" x2="303.34" y2="417.20" stroke="#666" stroke-width="0.55" />
<line x1="309.04" y1="415.40" x2="309.04" y2="417.20" stroke="#666" stroke-width="0.55" />
<line x1="313.70" y1="415.40" x2="313.70" y2="417.20" stroke="#666" stroke-width="0.55" />
<line x1="317.63" y1="415.40" x2="317.63" y2="417.20" stroke="#666" stroke-width="0.55" />
<line x1="321.04" y1="415.40" x2="321.04" y2="417.20" stroke="#666" stroke-width="0.55" />
<line x1="324.05" y1="415.40" x2="324.05" y2="417.20" stroke="#666" stroke-width="0.55" />
<line x1="326.74" y1="415.40" x2="326.74" y2="418.40" stroke="#555" stroke-width="0.7" />
<line x1="344.44" y1="415.40" x2="344.44" y2="417.20" stroke="#666" stroke-width="0.55" />
<line x1="354.79" y1="415.40" x2="354.79" y2="417.20" stroke="#666" stroke-width="0.55" />
<clipPath id="bc2_5"><rect x="267.94" y="422.70" width="87.20" height="24.80"/></clipPath>
<g clip-path="url(#bc2_5)">
<polyline points="277.78,429.72 285.64,430.60 291.34,431.77 296.83,433.82 303.97,439.35 310.04,440.16 317.63,441.35 326.22,442.36 333.64,441.70 341.03,443.60 348.01,443.85 354.79,444.09" fill="none" stroke="#b5e1f0" stroke-width="2.2" stroke-linejoin="round" stroke-linecap="square" />
<polyline points="277.78,429.72 285.64,430.60 291.34,431.77 296.83,433.82 303.97,439.35 310.04,440.16 317.63,441.35 326.22,442.36 333.64,441.70 341.03,443.60 348.01,443.85 354.79,444.09" fill="none" stroke="#5590b3" stroke-width="0.95" stroke-linejoin="round" stroke-linecap="square" />
<polyline points="277.78,425.10 285.64,425.88 291.34,427.29 296.83,429.77 303.97,435.71 310.04,436.88 317.63,439.03 326.22,441.36 333.64,441.70 341.03,443.12 348.01,443.85 354.79,444.33" fill="none" stroke="#2a2a2a" stroke-width="1.05" stroke-linejoin="round" stroke-linecap="square" />
</g>
<line x1="267.94" y1="424.70" x2="267.94" y2="447.50" stroke="#8c8c8c" stroke-width="0.8" />
<line x1="267.94" y1="447.50" x2="355.14" y2="447.50" stroke="#8c8c8c" stroke-width="0.8" />
<line x1="265.24" y1="447.50" x2="267.94" y2="447.50" stroke="#555" stroke-width="0.7" />
<line x1="265.24" y1="432.89" x2="267.94" y2="432.89" stroke="#555" stroke-width="0.7" />
<line x1="267.94" y1="447.50" x2="267.94" y2="450.50" stroke="#555" stroke-width="0.7" />
<line x1="285.64" y1="447.50" x2="285.64" y2="449.30" stroke="#666" stroke-width="0.55" />
<line x1="295.99" y1="447.50" x2="295.99" y2="449.30" stroke="#666" stroke-width="0.55" />
<line x1="303.34" y1="447.50" x2="303.34" y2="449.30" stroke="#666" stroke-width="0.55" />
<line x1="309.04" y1="447.50" x2="309.04" y2="449.30" stroke="#666" stroke-width="0.55" />
<line x1="313.70" y1="447.50" x2="313.70" y2="449.30" stroke="#666" stroke-width="0.55" />
<line x1="317.63" y1="447.50" x2="317.63" y2="449.30" stroke="#666" stroke-width="0.55" />
<line x1="321.04" y1="447.50" x2="321.04" y2="449.30" stroke="#666" stroke-width="0.55" />
<line x1="324.05" y1="447.50" x2="324.05" y2="449.30" stroke="#666" stroke-width="0.55" />
<line x1="326.74" y1="447.50" x2="326.74" y2="450.50" stroke="#555" stroke-width="0.7" />
<line x1="344.44" y1="447.50" x2="344.44" y2="449.30" stroke="#666" stroke-width="0.55" />
<line x1="354.79" y1="447.50" x2="354.79" y2="449.30" stroke="#666" stroke-width="0.55" />
<text x="267.94" y="458.90" font-size="8.2" text-anchor="middle" fill="#262626" textLength="10.80" lengthAdjust="spacingAndGlyphs" >0.1</text>
<text x="326.74" y="458.90" font-size="8.2" text-anchor="middle" fill="#262626" textLength="4.20" lengthAdjust="spacingAndGlyphs" >1</text>
<text x="415.71" y="253.80" font-size="9.9" text-anchor="middle" fill="#262626" textLength="24.80" lengthAdjust="spacingAndGlyphs" >03:00</text>
<clipPath id="bc3_0"><rect x="372.11" y="259.60" width="87.20" height="24.80"/></clipPath>
<g clip-path="url(#bc3_0)">
<polyline points="381.95,266.77 389.81,267.79 395.51,269.30 401.00,271.98 408.14,277.29 414.21,277.48 421.80,278.56 430.39,279.53 437.81,278.60 445.20,281.48 452.18,282.21 458.96,282.45" fill="none" stroke="#b5e1f0" stroke-width="2.2" stroke-linejoin="round" stroke-linecap="square" />
<polyline points="381.95,266.77 389.81,267.79 395.51,269.30 401.00,271.98 408.14,277.29 414.21,277.48 421.80,278.56 430.39,279.53 437.81,278.60 445.20,281.48 452.18,282.21 458.96,282.45" fill="none" stroke="#5590b3" stroke-width="0.95" stroke-linejoin="round" stroke-linecap="square" />
<polyline points="381.95,264.09 389.81,264.48 395.51,265.89 401.00,268.38 408.14,273.98 414.21,275.49 421.80,277.09 430.39,278.80 437.81,278.60 445.20,281.96 452.18,282.70 458.96,282.94" fill="none" stroke="#2a2a2a" stroke-width="1.05" stroke-linejoin="round" stroke-linecap="square" />
</g>
<line x1="372.11" y1="261.60" x2="372.11" y2="284.40" stroke="#8c8c8c" stroke-width="0.8" />
<line x1="372.11" y1="284.40" x2="459.31" y2="284.40" stroke="#8c8c8c" stroke-width="0.8" />
<line x1="369.41" y1="284.40" x2="372.11" y2="284.40" stroke="#555" stroke-width="0.7" />
<line x1="369.41" y1="269.79" x2="372.11" y2="269.79" stroke="#555" stroke-width="0.7" />
<line x1="372.11" y1="284.40" x2="372.11" y2="287.40" stroke="#555" stroke-width="0.7" />
<line x1="389.81" y1="284.40" x2="389.81" y2="286.20" stroke="#666" stroke-width="0.55" />
<line x1="400.16" y1="284.40" x2="400.16" y2="286.20" stroke="#666" stroke-width="0.55" />
<line x1="407.51" y1="284.40" x2="407.51" y2="286.20" stroke="#666" stroke-width="0.55" />
<line x1="413.21" y1="284.40" x2="413.21" y2="286.20" stroke="#666" stroke-width="0.55" />
<line x1="417.87" y1="284.40" x2="417.87" y2="286.20" stroke="#666" stroke-width="0.55" />
<line x1="421.80" y1="284.40" x2="421.80" y2="286.20" stroke="#666" stroke-width="0.55" />
<line x1="425.21" y1="284.40" x2="425.21" y2="286.20" stroke="#666" stroke-width="0.55" />
<line x1="428.22" y1="284.40" x2="428.22" y2="286.20" stroke="#666" stroke-width="0.55" />
<line x1="430.91" y1="284.40" x2="430.91" y2="287.40" stroke="#555" stroke-width="0.7" />
<line x1="448.61" y1="284.40" x2="448.61" y2="286.20" stroke="#666" stroke-width="0.55" />
<line x1="458.96" y1="284.40" x2="458.96" y2="286.20" stroke="#666" stroke-width="0.55" />
<clipPath id="bc3_1"><rect x="372.11" y="292.80" width="87.20" height="25.70"/></clipPath>
<g clip-path="url(#bc3_1)">
<polyline points="381.95,300.82 389.81,301.84 395.51,303.35 401.00,306.03 408.14,311.35 414.21,311.56 421.80,312.64 430.39,313.62 437.81,312.70 445.20,314.85 452.18,315.09 458.96,315.58" fill="none" stroke="#b5e1f0" stroke-width="2.2" stroke-linejoin="round" stroke-linecap="square" />
<polyline points="381.95,300.82 389.81,301.84 395.51,303.35 401.00,306.03 408.14,311.35 414.21,311.56 421.80,312.64 430.39,313.62 437.81,312.70 445.20,314.85 452.18,315.09 458.96,315.58" fill="none" stroke="#5590b3" stroke-width="0.95" stroke-linejoin="round" stroke-linecap="square" />
<polyline points="381.95,298.19 389.81,298.58 395.51,299.99 401.00,302.48 408.14,308.08 414.21,309.59 421.80,311.19 430.39,312.90 437.81,312.70 445.20,317.53 452.18,321.91 458.96,326.29" fill="none" stroke="#2a2a2a" stroke-width="1.05" stroke-linejoin="round" stroke-linecap="square" />
</g>
<line x1="372.11" y1="294.80" x2="372.11" y2="318.50" stroke="#8c8c8c" stroke-width="0.8" />
<line x1="372.11" y1="318.50" x2="459.31" y2="318.50" stroke="#8c8c8c" stroke-width="0.8" />
<line x1="369.41" y1="318.50" x2="372.11" y2="318.50" stroke="#555" stroke-width="0.7" />
<line x1="369.41" y1="303.89" x2="372.11" y2="303.89" stroke="#555" stroke-width="0.7" />
<line x1="372.11" y1="318.50" x2="372.11" y2="321.50" stroke="#555" stroke-width="0.7" />
<line x1="389.81" y1="318.50" x2="389.81" y2="320.30" stroke="#666" stroke-width="0.55" />
<line x1="400.16" y1="318.50" x2="400.16" y2="320.30" stroke="#666" stroke-width="0.55" />
<line x1="407.51" y1="318.50" x2="407.51" y2="320.30" stroke="#666" stroke-width="0.55" />
<line x1="413.21" y1="318.50" x2="413.21" y2="320.30" stroke="#666" stroke-width="0.55" />
<line x1="417.87" y1="318.50" x2="417.87" y2="320.30" stroke="#666" stroke-width="0.55" />
<line x1="421.80" y1="318.50" x2="421.80" y2="320.30" stroke="#666" stroke-width="0.55" />
<line x1="425.21" y1="318.50" x2="425.21" y2="320.30" stroke="#666" stroke-width="0.55" />
<line x1="428.22" y1="318.50" x2="428.22" y2="320.30" stroke="#666" stroke-width="0.55" />
<line x1="430.91" y1="318.50" x2="430.91" y2="321.50" stroke="#555" stroke-width="0.7" />
<line x1="448.61" y1="318.50" x2="448.61" y2="320.30" stroke="#666" stroke-width="0.55" />
<line x1="458.96" y1="318.50" x2="458.96" y2="320.30" stroke="#666" stroke-width="0.55" />
<clipPath id="bc3_2"><rect x="372.11" y="326.10" width="87.20" height="25.40"/></clipPath>
<g clip-path="url(#bc3_2)">
<polyline points="381.95,334.31 389.81,335.33 395.51,336.84 401.00,339.52 408.14,344.74 414.21,344.85 421.80,345.83 430.39,346.72 437.81,345.70 445.20,348.58 452.18,349.31 458.96,349.55" fill="none" stroke="#b5e1f0" stroke-width="2.2" stroke-linejoin="round" stroke-linecap="square" />
<polyline points="381.95,334.31 389.81,335.33 395.51,336.84 401.00,339.52 408.14,344.74 414.21,344.85 421.80,345.83 430.39,346.72 437.81,345.70 445.20,348.58 452.18,349.31 458.96,349.55" fill="none" stroke="#5590b3" stroke-width="0.95" stroke-linejoin="round" stroke-linecap="square" />
<polyline points="381.95,331.58 389.81,331.97 395.51,333.38 401.00,335.87 408.14,341.39 414.21,342.82 421.80,344.35 430.39,345.98 437.81,345.70 445.20,349.06 452.18,349.80 458.96,350.04" fill="none" stroke="#2a2a2a" stroke-width="1.05" stroke-linejoin="round" stroke-linecap="square" />
</g>
<line x1="372.11" y1="328.10" x2="372.11" y2="351.50" stroke="#8c8c8c" stroke-width="0.8" />
<line x1="372.11" y1="351.50" x2="459.31" y2="351.50" stroke="#8c8c8c" stroke-width="0.8" />
<line x1="369.41" y1="351.50" x2="372.11" y2="351.50" stroke="#555" stroke-width="0.7" />
<line x1="369.41" y1="336.89" x2="372.11" y2="336.89" stroke="#555" stroke-width="0.7" />
<line x1="372.11" y1="351.50" x2="372.11" y2="354.50" stroke="#555" stroke-width="0.7" />
<line x1="389.81" y1="351.50" x2="389.81" y2="353.30" stroke="#666" stroke-width="0.55" />
<line x1="400.16" y1="351.50" x2="400.16" y2="353.30" stroke="#666" stroke-width="0.55" />
<line x1="407.51" y1="351.50" x2="407.51" y2="353.30" stroke="#666" stroke-width="0.55" />
<line x1="413.21" y1="351.50" x2="413.21" y2="353.30" stroke="#666" stroke-width="0.55" />
<line x1="417.87" y1="351.50" x2="417.87" y2="353.30" stroke="#666" stroke-width="0.55" />
<line x1="421.80" y1="351.50" x2="421.80" y2="353.30" stroke="#666" stroke-width="0.55" />
<line x1="425.21" y1="351.50" x2="425.21" y2="353.30" stroke="#666" stroke-width="0.55" />
<line x1="428.22" y1="351.50" x2="428.22" y2="353.30" stroke="#666" stroke-width="0.55" />
<line x1="430.91" y1="351.50" x2="430.91" y2="354.50" stroke="#555" stroke-width="0.7" />
<line x1="448.61" y1="351.50" x2="448.61" y2="353.30" stroke="#666" stroke-width="0.55" />
<line x1="458.96" y1="351.50" x2="458.96" y2="353.30" stroke="#666" stroke-width="0.55" />
<clipPath id="bc3_3"><rect x="372.11" y="358.50" width="87.20" height="25.00"/></clipPath>
<g clip-path="url(#bc3_3)">
<polyline points="381.95,364.51 389.81,365.53 395.51,367.04 401.00,369.72 408.14,375.30 414.21,375.77 421.80,377.11 430.39,378.36 437.81,377.70 445.20,380.58 452.18,381.31 458.96,381.55" fill="none" stroke="#b5e1f0" stroke-width="2.2" stroke-linejoin="round" stroke-linecap="square" />
<polyline points="381.95,364.51 389.81,365.53 395.51,367.04 401.00,369.72 408.14,375.30 414.21,375.77 421.80,377.11 430.39,378.36 437.81,377.70 445.20,380.58 452.18,381.31 458.96,381.55" fill="none" stroke="#5590b3" stroke-width="0.95" stroke-linejoin="round" stroke-linecap="square" />
<polyline points="381.95,362.12 389.81,362.51 395.51,363.92 401.00,366.41 408.14,372.22 414.21,373.95 421.80,375.77 430.39,377.69 437.81,377.70 445.20,381.06 452.18,381.80 458.96,382.04" fill="none" stroke="#2a2a2a" stroke-width="1.05" stroke-linejoin="round" stroke-linecap="square" />
</g>
<line x1="372.11" y1="360.50" x2="372.11" y2="383.50" stroke="#8c8c8c" stroke-width="0.8" />
<line x1="372.11" y1="383.50" x2="459.31" y2="383.50" stroke="#8c8c8c" stroke-width="0.8" />
<line x1="369.41" y1="383.50" x2="372.11" y2="383.50" stroke="#555" stroke-width="0.7" />
<line x1="369.41" y1="368.89" x2="372.11" y2="368.89" stroke="#555" stroke-width="0.7" />
<line x1="372.11" y1="383.50" x2="372.11" y2="386.50" stroke="#555" stroke-width="0.7" />
<line x1="389.81" y1="383.50" x2="389.81" y2="385.30" stroke="#666" stroke-width="0.55" />
<line x1="400.16" y1="383.50" x2="400.16" y2="385.30" stroke="#666" stroke-width="0.55" />
<line x1="407.51" y1="383.50" x2="407.51" y2="385.30" stroke="#666" stroke-width="0.55" />
<line x1="413.21" y1="383.50" x2="413.21" y2="385.30" stroke="#666" stroke-width="0.55" />
<line x1="417.87" y1="383.50" x2="417.87" y2="385.30" stroke="#666" stroke-width="0.55" />
<line x1="421.80" y1="383.50" x2="421.80" y2="385.30" stroke="#666" stroke-width="0.55" />
<line x1="425.21" y1="383.50" x2="425.21" y2="385.30" stroke="#666" stroke-width="0.55" />
<line x1="428.22" y1="383.50" x2="428.22" y2="385.30" stroke="#666" stroke-width="0.55" />
<line x1="430.91" y1="383.50" x2="430.91" y2="386.50" stroke="#555" stroke-width="0.7" />
<line x1="448.61" y1="383.50" x2="448.61" y2="385.30" stroke="#666" stroke-width="0.55" />
<line x1="458.96" y1="383.50" x2="458.96" y2="385.30" stroke="#666" stroke-width="0.55" />
<clipPath id="bc3_4"><rect x="372.11" y="390.70" width="87.20" height="24.70"/></clipPath>
<g clip-path="url(#bc3_4)">
<polyline points="381.95,395.92 389.81,396.94 395.51,398.45 401.00,401.13 408.14,406.81 414.21,407.37 421.80,408.82 430.39,410.16 437.81,409.60 445.20,411.99 452.18,412.23 458.96,412.72" fill="none" stroke="#b5e1f0" stroke-width="2.2" stroke-linejoin="round" stroke-linecap="square" />
<polyline points="381.95,395.92 389.81,396.94 395.51,398.45 401.00,401.13 408.14,406.81 414.21,407.37 421.80,408.82 430.39,410.16 437.81,409.60 445.20,411.99 452.18,412.23 458.96,412.72" fill="none" stroke="#5590b3" stroke-width="0.95" stroke-linejoin="round" stroke-linecap="square" />
<polyline points="381.95,393.92 389.81,394.31 395.51,395.73 401.00,398.21 408.14,404.04 414.21,405.79 421.80,407.63 430.39,409.57 437.81,409.60 445.20,414.43 452.18,418.81 458.96,423.19" fill="none" stroke="#2a2a2a" stroke-width="1.05" stroke-linejoin="round" stroke-linecap="square" />
</g>
<line x1="372.11" y1="392.70" x2="372.11" y2="415.40" stroke="#8c8c8c" stroke-width="0.8" />
<line x1="372.11" y1="415.40" x2="459.31" y2="415.40" stroke="#8c8c8c" stroke-width="0.8" />
<line x1="369.41" y1="415.40" x2="372.11" y2="415.40" stroke="#555" stroke-width="0.7" />
<line x1="369.41" y1="400.79" x2="372.11" y2="400.79" stroke="#555" stroke-width="0.7" />
<line x1="372.11" y1="415.40" x2="372.11" y2="418.40" stroke="#555" stroke-width="0.7" />
<line x1="389.81" y1="415.40" x2="389.81" y2="417.20" stroke="#666" stroke-width="0.55" />
<line x1="400.16" y1="415.40" x2="400.16" y2="417.20" stroke="#666" stroke-width="0.55" />
<line x1="407.51" y1="415.40" x2="407.51" y2="417.20" stroke="#666" stroke-width="0.55" />
<line x1="413.21" y1="415.40" x2="413.21" y2="417.20" stroke="#666" stroke-width="0.55" />
<line x1="417.87" y1="415.40" x2="417.87" y2="417.20" stroke="#666" stroke-width="0.55" />
<line x1="421.80" y1="415.40" x2="421.80" y2="417.20" stroke="#666" stroke-width="0.55" />
<line x1="425.21" y1="415.40" x2="425.21" y2="417.20" stroke="#666" stroke-width="0.55" />
<line x1="428.22" y1="415.40" x2="428.22" y2="417.20" stroke="#666" stroke-width="0.55" />
<line x1="430.91" y1="415.40" x2="430.91" y2="418.40" stroke="#555" stroke-width="0.7" />
<line x1="448.61" y1="415.40" x2="448.61" y2="417.20" stroke="#666" stroke-width="0.55" />
<line x1="458.96" y1="415.40" x2="458.96" y2="417.20" stroke="#666" stroke-width="0.55" />
<clipPath id="bc3_5"><rect x="372.11" y="422.70" width="87.20" height="24.80"/></clipPath>
<g clip-path="url(#bc3_5)">
<polyline points="381.95,428.12 389.81,429.14 395.51,430.65 401.00,433.33 408.14,438.99 414.21,439.53 421.80,440.95 430.39,442.28 437.81,441.70 445.20,444.58 452.18,445.31 458.96,445.55" fill="none" stroke="#b5e1f0" stroke-width="2.2" stroke-linejoin="round" stroke-linecap="square" />
<polyline points="381.95,428.12 389.81,429.14 395.51,430.65 401.00,433.33 408.14,438.99 414.21,439.53 421.80,440.95 430.39,442.28 437.81,441.70 445.20,444.58 452.18,445.31 458.96,445.55" fill="none" stroke="#5590b3" stroke-width="0.95" stroke-linejoin="round" stroke-linecap="square" />
<polyline points="381.95,425.68 389.81,426.07 395.51,427.48 401.00,429.97 408.14,435.87 414.21,437.68 421.80,439.59 430.39,441.60 437.81,441.70 445.20,445.06 452.18,445.80 458.96,446.04" fill="none" stroke="#2a2a2a" stroke-width="1.05" stroke-linejoin="round" stroke-linecap="square" />
</g>
<line x1="372.11" y1="424.70" x2="372.11" y2="447.50" stroke="#8c8c8c" stroke-width="0.8" />
<line x1="372.11" y1="447.50" x2="459.31" y2="447.50" stroke="#8c8c8c" stroke-width="0.8" />
<line x1="369.41" y1="447.50" x2="372.11" y2="447.50" stroke="#555" stroke-width="0.7" />
<line x1="369.41" y1="432.89" x2="372.11" y2="432.89" stroke="#555" stroke-width="0.7" />
<line x1="372.11" y1="447.50" x2="372.11" y2="450.50" stroke="#555" stroke-width="0.7" />
<line x1="389.81" y1="447.50" x2="389.81" y2="449.30" stroke="#666" stroke-width="0.55" />
<line x1="400.16" y1="447.50" x2="400.16" y2="449.30" stroke="#666" stroke-width="0.55" />
<line x1="407.51" y1="447.50" x2="407.51" y2="449.30" stroke="#666" stroke-width="0.55" />
<line x1="413.21" y1="447.50" x2="413.21" y2="449.30" stroke="#666" stroke-width="0.55" />
<line x1="417.87" y1="447.50" x2="417.87" y2="449.30" stroke="#666" stroke-width="0.55" />
<line x1="421.80" y1="447.50" x2="421.80" y2="449.30" stroke="#666" stroke-width="0.55" />
<line x1="425.21" y1="447.50" x2="425.21" y2="449.30" stroke="#666" stroke-width="0.55" />
<line x1="428.22" y1="447.50" x2="428.22" y2="449.30" stroke="#666" stroke-width="0.55" />
<line x1="430.91" y1="447.50" x2="430.91" y2="450.50" stroke="#555" stroke-width="0.7" />
<line x1="448.61" y1="447.50" x2="448.61" y2="449.30" stroke="#666" stroke-width="0.55" />
<line x1="458.96" y1="447.50" x2="458.96" y2="449.30" stroke="#666" stroke-width="0.55" />
<text x="372.11" y="458.90" font-size="8.2" text-anchor="middle" fill="#262626" textLength="10.80" lengthAdjust="spacingAndGlyphs" >0.1</text>
<text x="430.91" y="458.90" font-size="8.2" text-anchor="middle" fill="#262626" textLength="4.20" lengthAdjust="spacingAndGlyphs" >1</text>
<text x="519.88" y="253.80" font-size="9.9" text-anchor="middle" fill="#262626" textLength="24.80" lengthAdjust="spacingAndGlyphs" >06:00</text>
<clipPath id="bc4_0"><rect x="476.28" y="259.60" width="87.20" height="24.80"/></clipPath>
<g clip-path="url(#bc4_0)">
<polyline points="486.12,266.87 493.98,267.89 499.68,269.40 505.17,271.79 512.31,277.37 518.38,277.79 525.97,278.59 534.56,279.11 541.98,278.60 549.37,280.50 556.35,280.60 563.13,281.48" fill="none" stroke="#b5e1f0" stroke-width="2.2" stroke-linejoin="round" stroke-linecap="square" />
<polyline points="486.12,266.87 493.98,267.89 499.68,269.40 505.17,271.79 512.31,277.37 518.38,277.79 525.97,278.59 534.56,279.11 541.98,278.60 549.37,280.50 556.35,280.60 563.13,281.48" fill="none" stroke="#5590b3" stroke-width="0.95" stroke-linejoin="round" stroke-linecap="square" />
<polyline points="486.12,266.28 493.98,266.09 499.68,267.35 505.17,269.40 512.31,275.10 518.38,276.51 525.97,277.83 534.56,279.09 541.98,279.09 549.37,283.43 556.35,287.81 563.13,292.19" fill="none" stroke="#2a2a2a" stroke-width="1.05" stroke-linejoin="round" stroke-linecap="square" />
</g>
<line x1="476.28" y1="261.60" x2="476.28" y2="284.40" stroke="#8c8c8c" stroke-width="0.8" />
<line x1="476.28" y1="284.40" x2="563.48" y2="284.40" stroke="#8c8c8c" stroke-width="0.8" />
<line x1="473.58" y1="284.40" x2="476.28" y2="284.40" stroke="#555" stroke-width="0.7" />
<line x1="473.58" y1="269.79" x2="476.28" y2="269.79" stroke="#555" stroke-width="0.7" />
<line x1="476.28" y1="284.40" x2="476.28" y2="287.40" stroke="#555" stroke-width="0.7" />
<line x1="493.98" y1="284.40" x2="493.98" y2="286.20" stroke="#666" stroke-width="0.55" />
<line x1="504.33" y1="284.40" x2="504.33" y2="286.20" stroke="#666" stroke-width="0.55" />
<line x1="511.68" y1="284.40" x2="511.68" y2="286.20" stroke="#666" stroke-width="0.55" />
<line x1="517.38" y1="284.40" x2="517.38" y2="286.20" stroke="#666" stroke-width="0.55" />
<line x1="522.04" y1="284.40" x2="522.04" y2="286.20" stroke="#666" stroke-width="0.55" />
<line x1="525.97" y1="284.40" x2="525.97" y2="286.20" stroke="#666" stroke-width="0.55" />
<line x1="529.38" y1="284.40" x2="529.38" y2="286.20" stroke="#666" stroke-width="0.55" />
<line x1="532.39" y1="284.40" x2="532.39" y2="286.20" stroke="#666" stroke-width="0.55" />
<line x1="535.08" y1="284.40" x2="535.08" y2="287.40" stroke="#555" stroke-width="0.7" />
<line x1="552.78" y1="284.40" x2="552.78" y2="286.20" stroke="#666" stroke-width="0.55" />
<line x1="563.13" y1="284.40" x2="563.13" y2="286.20" stroke="#666" stroke-width="0.55" />
<clipPath id="bc4_1"><rect x="476.28" y="292.80" width="87.20" height="25.70"/></clipPath>
<g clip-path="url(#bc4_1)">
<polyline points="486.12,300.38 493.98,301.41 499.68,302.92 505.17,305.30 512.31,311.00 518.38,311.54 525.97,312.46 534.56,313.09 541.98,312.70 549.37,314.85 556.35,315.09 563.13,315.82" fill="none" stroke="#b5e1f0" stroke-width="2.2" stroke-linejoin="round" stroke-linecap="square" />
<polyline points="486.12,300.38 493.98,301.41 499.68,302.92 505.17,305.30 512.31,311.00 518.38,311.54 525.97,312.46 534.56,313.09 541.98,312.70 549.37,314.85 556.35,315.09 563.13,315.82" fill="none" stroke="#5590b3" stroke-width="0.95" stroke-linejoin="round" stroke-linecap="square" />
<polyline points="486.12,299.41 493.98,299.21 499.68,300.48 505.17,302.53 512.31,308.42 518.38,310.03 525.97,311.54 534.56,313.00 541.98,313.19 549.37,317.53 556.35,321.91 563.13,326.29" fill="none" stroke="#2a2a2a" stroke-width="1.05" stroke-linejoin="round" stroke-linecap="square" />
</g>
<line x1="476.28" y1="294.80" x2="476.28" y2="318.50" stroke="#8c8c8c" stroke-width="0.8" />
<line x1="476.28" y1="318.50" x2="563.48" y2="318.50" stroke="#8c8c8c" stroke-width="0.8" />
<line x1="473.58" y1="318.50" x2="476.28" y2="318.50" stroke="#555" stroke-width="0.7" />
<line x1="473.58" y1="303.89" x2="476.28" y2="303.89" stroke="#555" stroke-width="0.7" />
<line x1="476.28" y1="318.50" x2="476.28" y2="321.50" stroke="#555" stroke-width="0.7" />
<line x1="493.98" y1="318.50" x2="493.98" y2="320.30" stroke="#666" stroke-width="0.55" />
<line x1="504.33" y1="318.50" x2="504.33" y2="320.30" stroke="#666" stroke-width="0.55" />
<line x1="511.68" y1="318.50" x2="511.68" y2="320.30" stroke="#666" stroke-width="0.55" />
<line x1="517.38" y1="318.50" x2="517.38" y2="320.30" stroke="#666" stroke-width="0.55" />
<line x1="522.04" y1="318.50" x2="522.04" y2="320.30" stroke="#666" stroke-width="0.55" />
<line x1="525.97" y1="318.50" x2="525.97" y2="320.30" stroke="#666" stroke-width="0.55" />
<line x1="529.38" y1="318.50" x2="529.38" y2="320.30" stroke="#666" stroke-width="0.55" />
<line x1="532.39" y1="318.50" x2="532.39" y2="320.30" stroke="#666" stroke-width="0.55" />
<line x1="535.08" y1="318.50" x2="535.08" y2="321.50" stroke="#555" stroke-width="0.7" />
<line x1="552.78" y1="318.50" x2="552.78" y2="320.30" stroke="#666" stroke-width="0.55" />
<line x1="563.13" y1="318.50" x2="563.13" y2="320.30" stroke="#666" stroke-width="0.55" />
<clipPath id="bc4_2"><rect x="476.28" y="326.10" width="87.20" height="25.40"/></clipPath>
<g clip-path="url(#bc4_2)">
<polyline points="486.12,333.29 493.98,334.31 499.68,335.82 505.17,338.20 512.31,343.92 518.38,344.48 525.97,345.42 534.56,346.07 541.98,345.70 549.37,348.82 556.35,349.55 563.13,350.53" fill="none" stroke="#b5e1f0" stroke-width="2.2" stroke-linejoin="round" stroke-linecap="square" />
<polyline points="486.12,333.29 493.98,334.31 499.68,335.82 505.17,338.20 512.31,343.92 518.38,344.48 525.97,345.42 534.56,346.07 541.98,345.70 549.37,348.82 556.35,349.55 563.13,350.53" fill="none" stroke="#5590b3" stroke-width="0.95" stroke-linejoin="round" stroke-linecap="square" />
<polyline points="486.12,332.60 493.98,332.41 499.68,333.68 505.17,335.72 512.31,341.57 518.38,343.14 525.97,344.61 534.56,346.04 541.98,346.19 549.37,349.31 556.35,350.04 563.13,351.26" fill="none" stroke="#2a2a2a" stroke-width="1.05" stroke-linejoin="round" stroke-linecap="square" />
</g>
<line x1="476.28" y1="328.10" x2="476.28" y2="351.50" stroke="#8c8c8c" stroke-width="0.8" />
<line x1="476.28" y1="351.50" x2="563.48" y2="351.50" stroke="#8c8c8c" stroke-width="0.8" />
<line x1="473.58" y1="351.50" x2="476.28" y2="351.50" stroke="#555" stroke-width="0.7" />
<line x1="473.58" y1="336.89" x2="476.28" y2="336.89" stroke="#555" stroke-width="0.7" />
<line x1="476.28" y1="351.50" x2="476.28" y2="354.50" stroke="#555" stroke-width="0.7" />
<line x1="493.98" y1="351.50" x2="493.98" y2="353.30" stroke="#666" stroke-width="0.55" />
<line x1="504.33" y1="351.50" x2="504.33" y2="353.30" stroke="#666" stroke-width="0.55" />
<line x1="511.68" y1="351.50" x2="511.68" y2="353.30" stroke="#666" stroke-width="0.55" />
<line x1="517.38" y1="351.50" x2="517.38" y2="353.30" stroke="#666" stroke-width="0.55" />
<line x1="522.04" y1="351.50" x2="522.04" y2="353.30" stroke="#666" stroke-width="0.55" />
<line x1="525.97" y1="351.50" x2="525.97" y2="353.30" stroke="#666" stroke-width="0.55" />
<line x1="529.38" y1="351.50" x2="529.38" y2="353.30" stroke="#666" stroke-width="0.55" />
<line x1="532.39" y1="351.50" x2="532.39" y2="353.30" stroke="#666" stroke-width="0.55" />
<line x1="535.08" y1="351.50" x2="535.08" y2="354.50" stroke="#555" stroke-width="0.7" />
<line x1="552.78" y1="351.50" x2="552.78" y2="353.30" stroke="#666" stroke-width="0.55" />
<line x1="563.13" y1="351.50" x2="563.13" y2="353.30" stroke="#666" stroke-width="0.55" />
<clipPath id="bc4_3"><rect x="476.28" y="358.50" width="87.20" height="25.00"/></clipPath>
<g clip-path="url(#bc4_3)">
<polyline points="486.12,365.29 493.98,366.31 499.68,367.82 505.17,370.20 512.31,375.92 518.38,376.48 525.97,377.42 534.56,378.07 541.98,377.70 549.37,380.82 556.35,381.55 563.13,382.53" fill="none" stroke="#b5e1f0" stroke-width="2.2" stroke-linejoin="round" stroke-linecap="square" />
<polyline points="486.12,365.29 493.98,366.31 499.68,367.82 505.17,370.20 512.31,375.92 518.38,376.48 525.97,377.42 534.56,378.07 541.98,377.70 549.37,380.82 556.35,381.55 563.13,382.53" fill="none" stroke="#5590b3" stroke-width="0.95" stroke-linejoin="round" stroke-linecap="square" />
<polyline points="486.12,362.90 493.98,362.71 499.68,363.97 505.17,366.02 512.31,372.21 518.38,374.12 525.97,375.93 534.56,377.69 541.98,378.19 549.37,381.31 556.35,382.04 563.13,383.26" fill="none" stroke="#2a2a2a" stroke-width="1.05" stroke-linejoin="round" stroke-linecap="square" />
</g>
<line x1="476.28" y1="360.50" x2="476.28" y2="383.50" stroke="#8c8c8c" stroke-width="0.8" />
<line x1="476.28" y1="383.50" x2="563.48" y2="383.50" stroke="#8c8c8c" stroke-width="0.8" />
<line x1="473.58" y1="383.50" x2="476.28" y2="383.50" stroke="#555" stroke-width="0.7" />
<line x1="473.58" y1="368.89" x2="476.28" y2="368.89" stroke="#555" stroke-width="0.7" />
<line x1="476.28" y1="383.50" x2="476.28" y2="386.50" stroke="#555" stroke-width="0.7" />
<line x1="493.98" y1="383.50" x2="493.98" y2="385.30" stroke="#666" stroke-width="0.55" />
<line x1="504.33" y1="383.50" x2="504.33" y2="385.30" stroke="#666" stroke-width="0.55" />
<line x1="511.68" y1="383.50" x2="511.68" y2="385.30" stroke="#666" stroke-width="0.55" />
<line x1="517.38" y1="383.50" x2="517.38" y2="385.30" stroke="#666" stroke-width="0.55" />
<line x1="522.04" y1="383.50" x2="522.04" y2="385.30" stroke="#666" stroke-width="0.55" />
<line x1="525.97" y1="383.50" x2="525.97" y2="385.30" stroke="#666" stroke-width="0.55" />
<line x1="529.38" y1="383.50" x2="529.38" y2="385.30" stroke="#666" stroke-width="0.55" />
<line x1="532.39" y1="383.50" x2="532.39" y2="385.30" stroke="#666" stroke-width="0.55" />
<line x1="535.08" y1="383.50" x2="535.08" y2="386.50" stroke="#555" stroke-width="0.7" />
<line x1="552.78" y1="383.50" x2="552.78" y2="385.30" stroke="#666" stroke-width="0.55" />
<line x1="563.13" y1="383.50" x2="563.13" y2="385.30" stroke="#666" stroke-width="0.55" />
<clipPath id="bc4_4"><rect x="476.28" y="390.70" width="87.20" height="24.70"/></clipPath>
<g clip-path="url(#bc4_4)">
<polyline points="486.12,396.41 493.98,397.43 499.68,398.94 505.17,401.33 512.31,407.20 518.38,407.91 525.97,409.01 534.56,409.82 541.98,409.60 549.37,412.72 556.35,413.45 563.13,414.43" fill="none" stroke="#b5e1f0" stroke-width="2.2" stroke-linejoin="round" stroke-linecap="square" />
<polyline points="486.12,396.41 493.98,397.43 499.68,398.94 505.17,401.33 512.31,407.20 518.38,407.91 525.97,409.01 534.56,409.82 541.98,409.60 549.37,412.72 556.35,413.45 563.13,414.43" fill="none" stroke="#5590b3" stroke-width="0.95" stroke-linejoin="round" stroke-linecap="square" />
<polyline points="486.12,394.41 493.98,394.22 499.68,395.48 505.17,397.53 512.31,403.80 518.38,405.79 525.97,407.68 534.56,409.52 541.98,410.09 549.37,413.21 556.35,413.94 563.13,415.16" fill="none" stroke="#2a2a2a" stroke-width="1.05" stroke-linejoin="round" stroke-linecap="square" />
</g>
<line x1="476.28" y1="392.70" x2="476.28" y2="415.40" stroke="#8c8c8c" stroke-width="0.8" />
<line x1="476.28" y1="415.40" x2="563.48" y2="415.40" stroke="#8c8c8c" stroke-width="0.8" />
<line x1="473.58" y1="415.40" x2="476.28" y2="415.40" stroke="#555" stroke-width="0.7" />
<line x1="473.58" y1="400.79" x2="476.28" y2="400.79" stroke="#555" stroke-width="0.7" />
<line x1="476.28" y1="415.40" x2="476.28" y2="418.40" stroke="#555" stroke-width="0.7" />
<line x1="493.98" y1="415.40" x2="493.98" y2="417.20" stroke="#666" stroke-width="0.55" />
<line x1="504.33" y1="415.40" x2="504.33" y2="417.20" stroke="#666" stroke-width="0.55" />
<line x1="511.68" y1="415.40" x2="511.68" y2="417.20" stroke="#666" stroke-width="0.55" />
<line x1="517.38" y1="415.40" x2="517.38" y2="417.20" stroke="#666" stroke-width="0.55" />
<line x1="522.04" y1="415.40" x2="522.04" y2="417.20" stroke="#666" stroke-width="0.55" />
<line x1="525.97" y1="415.40" x2="525.97" y2="417.20" stroke="#666" stroke-width="0.55" />
<line x1="529.38" y1="415.40" x2="529.38" y2="417.20" stroke="#666" stroke-width="0.55" />
<line x1="532.39" y1="415.40" x2="532.39" y2="417.20" stroke="#666" stroke-width="0.55" />
<line x1="535.08" y1="415.40" x2="535.08" y2="418.40" stroke="#555" stroke-width="0.7" />
<line x1="552.78" y1="415.40" x2="552.78" y2="417.20" stroke="#666" stroke-width="0.55" />
<line x1="563.13" y1="415.40" x2="563.13" y2="417.20" stroke="#666" stroke-width="0.55" />
<clipPath id="bc4_5"><rect x="476.28" y="422.70" width="87.20" height="24.80"/></clipPath>
<g clip-path="url(#bc4_5)">
<polyline points="486.12,428.41 493.98,429.43 499.68,430.94 505.17,433.33 512.31,439.22 518.38,439.95 525.97,441.07 534.56,441.90 541.98,441.70 549.37,444.09 556.35,444.33 563.13,444.82" fill="none" stroke="#b5e1f0" stroke-width="2.2" stroke-linejoin="round" stroke-linecap="square" />
<polyline points="486.12,428.41 493.98,429.43 499.68,430.94 505.17,433.33 512.31,439.22 518.38,439.95 525.97,441.07 534.56,441.90 541.98,441.70 549.37,444.09 556.35,444.33 563.13,444.82" fill="none" stroke="#5590b3" stroke-width="0.95" stroke-linejoin="round" stroke-linecap="square" />
<polyline points="486.12,426.41 493.98,426.22 499.68,427.48 505.17,429.53 512.31,435.82 518.38,437.83 525.97,439.74 534.56,441.60 541.98,442.19 549.37,445.06 556.35,445.55 563.13,446.04" fill="none" stroke="#2a2a2a" stroke-width="1.05" stroke-linejoin="round" stroke-linecap="square" />
</g>
<line x1="476.28" y1="424.70" x2="476.28" y2="447.50" stroke="#8c8c8c" stroke-width="0.8" />
<line x1="476.28" y1="447.50" x2="563.48" y2="447.50" stroke="#8c8c8c" stroke-width="0.8" />
<line x1="473.58" y1="447.50" x2="476.28" y2="447.50" stroke="#555" stroke-width="0.7" />
<line x1="473.58" y1="432.89" x2="476.28" y2="432.89" stroke="#555" stroke-width="0.7" />
<line x1="476.28" y1="447.50" x2="476.28" y2="450.50" stroke="#555" stroke-width="0.7" />
<line x1="493.98" y1="447.50" x2="493.98" y2="449.30" stroke="#666" stroke-width="0.55" />
<line x1="504.33" y1="447.50" x2="504.33" y2="449.30" stroke="#666" stroke-width="0.55" />
<line x1="511.68" y1="447.50" x2="511.68" y2="449.30" stroke="#666" stroke-width="0.55" />
<line x1="517.38" y1="447.50" x2="517.38" y2="449.30" stroke="#666" stroke-width="0.55" />
<line x1="522.04" y1="447.50" x2="522.04" y2="449.30" stroke="#666" stroke-width="0.55" />
<line x1="525.97" y1="447.50" x2="525.97" y2="449.30" stroke="#666" stroke-width="0.55" />
<line x1="529.38" y1="447.50" x2="529.38" y2="449.30" stroke="#666" stroke-width="0.55" />
<line x1="532.39" y1="447.50" x2="532.39" y2="449.30" stroke="#666" stroke-width="0.55" />
<line x1="535.08" y1="447.50" x2="535.08" y2="450.50" stroke="#555" stroke-width="0.7" />
<line x1="552.78" y1="447.50" x2="552.78" y2="449.30" stroke="#666" stroke-width="0.55" />
<line x1="563.13" y1="447.50" x2="563.13" y2="449.30" stroke="#666" stroke-width="0.55" />
<text x="476.28" y="458.90" font-size="8.2" text-anchor="middle" fill="#262626" textLength="10.80" lengthAdjust="spacingAndGlyphs" >0.1</text>
<text x="535.08" y="458.90" font-size="8.2" text-anchor="middle" fill="#262626" textLength="4.20" lengthAdjust="spacingAndGlyphs" >1</text>
<text x="624.05" y="253.80" font-size="9.9" text-anchor="middle" fill="#262626" textLength="24.80" lengthAdjust="spacingAndGlyphs" >09:00</text>
<clipPath id="bc5_0"><rect x="580.45" y="259.60" width="87.20" height="24.80"/></clipPath>
<g clip-path="url(#bc5_0)">
<polyline points="590.29,268.28 598.15,269.11 603.85,270.67 609.34,273.00 616.48,277.50 622.55,277.86 630.14,278.52 638.73,279.07 646.15,278.60 653.54,280.99 660.52,281.48 667.30,282.45" fill="none" stroke="#b5e1f0" stroke-width="2.2" stroke-linejoin="round" stroke-linecap="square" />
<polyline points="590.29,268.28 598.15,269.11 603.85,270.67 609.34,273.00 616.48,277.50 622.55,277.86 630.14,278.52 638.73,279.07 646.15,278.60 653.54,280.99 660.52,281.48 667.30,282.45" fill="none" stroke="#5590b3" stroke-width="0.95" stroke-linejoin="round" stroke-linecap="square" />
<polyline points="590.29,266.28 598.15,266.09 603.85,267.35 609.34,269.40 616.48,275.10 622.55,276.32 630.14,277.58 638.73,279.09 646.15,279.09 653.54,282.45 660.52,282.94 667.30,284.40" fill="none" stroke="#2a2a2a" stroke-width="1.05" stroke-linejoin="round" stroke-linecap="square" />
</g>
<line x1="580.45" y1="261.60" x2="580.45" y2="284.40" stroke="#8c8c8c" stroke-width="0.8" />
<line x1="580.45" y1="284.40" x2="667.65" y2="284.40" stroke="#8c8c8c" stroke-width="0.8" />
<line x1="577.75" y1="284.40" x2="580.45" y2="284.40" stroke="#555" stroke-width="0.7" />
<line x1="577.75" y1="269.79" x2="580.45" y2="269.79" stroke="#555" stroke-width="0.7" />
<line x1="580.45" y1="284.40" x2="580.45" y2="287.40" stroke="#555" stroke-width="0.7" />
<line x1="598.15" y1="284.40" x2="598.15" y2="286.20" stroke="#666" stroke-width="0.55" />
<line x1="608.50" y1="284.40" x2="608.50" y2="286.20" stroke="#666" stroke-width="0.55" />
<line x1="615.85" y1="284.40" x2="615.85" y2="286.20" stroke="#666" stroke-width="0.55" />
<line x1="621.55" y1="284.40" x2="621.55" y2="286.20" stroke="#666" stroke-width="0.55" />
<line x1="626.21" y1="284.40" x2="626.21" y2="286.20" stroke="#666" stroke-width="0.55" />
<line x1="630.14" y1="284.40" x2="630.14" y2="286.20" stroke="#666" stroke-width="0.55" />
<line x1="633.55" y1="284.40" x2="633.55" y2="286.20" stroke="#666" stroke-width="0.55" />
<line x1="636.56" y1="284.40" x2="636.56" y2="286.20" stroke="#666" stroke-width="0.55" />
<line x1="639.25" y1="284.40" x2="639.25" y2="287.40" stroke="#555" stroke-width="0.7" />
<line x1="656.95" y1="284.40" x2="656.95" y2="286.20" stroke="#666" stroke-width="0.55" />
<line x1="667.30" y1="284.40" x2="667.30" y2="286.20" stroke="#666" stroke-width="0.55" />
<text x="0" y="0" font-size="10.5" text-anchor="middle" fill="#262626" textLength="25.0" lengthAdjust="spacingAndGlyphs" transform="translate(682.3,273.80) rotate(-90)">200m</text>
<clipPath id="bc5_1"><rect x="580.45" y="292.80" width="87.20" height="25.70"/></clipPath>
<g clip-path="url(#bc5_1)">
<polyline points="590.29,301.41 598.15,302.23 603.85,303.79 609.34,306.13 616.48,310.82 622.55,311.38 630.14,312.23 638.73,312.98 646.15,312.70 653.54,315.09 660.52,315.58 667.30,316.55" fill="none" stroke="#b5e1f0" stroke-width="2.2" stroke-linejoin="round" stroke-linecap="square" />
<polyline points="590.29,301.41 598.15,302.23 603.85,303.79 609.34,306.13 616.48,310.82 622.55,311.38 630.14,312.23 638.73,312.98 646.15,312.70 653.54,315.09 660.52,315.58 667.30,316.55" fill="none" stroke="#5590b3" stroke-width="0.95" stroke-linejoin="round" stroke-linecap="square" />
<polyline points="590.29,299.41 598.15,299.21 603.85,300.48 609.34,302.53 616.48,308.42 622.55,309.83 630.14,311.29 638.73,313.00 646.15,313.19 653.54,316.55 660.52,318.50 667.30,320.94" fill="none" stroke="#2a2a2a" stroke-width="1.05" stroke-linejoin="round" stroke-linecap="square" />
</g>
<line x1="580.45" y1="294.80" x2="580.45" y2="318.50" stroke="#8c8c8c" stroke-width="0.8" />
<line x1="580.45" y1="318.50" x2="667.65" y2="318.50" stroke="#8c8c8c" stroke-width="0.8" />
<line x1="577.75" y1="318.50" x2="580.45" y2="318.50" stroke="#555" stroke-width="0.7" />
<line x1="577.75" y1="303.89" x2="580.45" y2="303.89" stroke="#555" stroke-width="0.7" />
<line x1="580.45" y1="318.50" x2="580.45" y2="321.50" stroke="#555" stroke-width="0.7" />
<line x1="598.15" y1="318.50" x2="598.15" y2="320.30" stroke="#666" stroke-width="0.55" />
<line x1="608.50" y1="318.50" x2="608.50" y2="320.30" stroke="#666" stroke-width="0.55" />
<line x1="615.85" y1="318.50" x2="615.85" y2="320.30" stroke="#666" stroke-width="0.55" />
<line x1="621.55" y1="318.50" x2="621.55" y2="320.30" stroke="#666" stroke-width="0.55" />
<line x1="626.21" y1="318.50" x2="626.21" y2="320.30" stroke="#666" stroke-width="0.55" />
<line x1="630.14" y1="318.50" x2="630.14" y2="320.30" stroke="#666" stroke-width="0.55" />
<line x1="633.55" y1="318.50" x2="633.55" y2="320.30" stroke="#666" stroke-width="0.55" />
<line x1="636.56" y1="318.50" x2="636.56" y2="320.30" stroke="#666" stroke-width="0.55" />
<line x1="639.25" y1="318.50" x2="639.25" y2="321.50" stroke="#555" stroke-width="0.7" />
<line x1="656.95" y1="318.50" x2="656.95" y2="320.30" stroke="#666" stroke-width="0.55" />
<line x1="667.30" y1="318.50" x2="667.30" y2="320.30" stroke="#666" stroke-width="0.55" />
<text x="0" y="0" font-size="10.5" text-anchor="middle" fill="#262626" textLength="25.0" lengthAdjust="spacingAndGlyphs" transform="translate(682.3,307.45) rotate(-90)">160m</text>
<clipPath id="bc5_2"><rect x="580.45" y="326.10" width="87.20" height="25.40"/></clipPath>
<g clip-path="url(#bc5_2)">
<polyline points="590.29,333.29 598.15,334.11 603.85,335.67 609.34,338.01 616.48,342.93 622.55,343.71 630.14,344.78 638.73,345.75 646.15,345.70 653.54,348.09 660.52,348.58 667.30,349.55" fill="none" stroke="#b5e1f0" stroke-width="2.2" stroke-linejoin="round" stroke-linecap="square" />
<polyline points="590.29,333.29 598.15,334.11 603.85,335.67 609.34,338.01 616.48,342.93 622.55,343.71 630.14,344.78 638.73,345.75 646.15,345.70 653.54,348.09 660.52,348.58 667.30,349.55" fill="none" stroke="#5590b3" stroke-width="0.95" stroke-linejoin="round" stroke-linecap="square" />
<polyline points="590.29,332.60 598.15,332.41 603.85,333.68 609.34,335.72 616.48,341.57 622.55,342.95 630.14,344.37 638.73,346.04 646.15,346.19 653.54,349.55 660.52,350.04 667.30,351.50" fill="none" stroke="#2a2a2a" stroke-width="1.05" stroke-linejoin="round" stroke-linecap="square" />
</g>
<line x1="580.45" y1="328.10" x2="580.45" y2="351.50" stroke="#8c8c8c" stroke-width="0.8" />
<line x1="580.45" y1="351.50" x2="667.65" y2="351.50" stroke="#8c8c8c" stroke-width="0.8" />
<line x1="577.75" y1="351.50" x2="580.45" y2="351.50" stroke="#555" stroke-width="0.7" />
<line x1="577.75" y1="336.89" x2="580.45" y2="336.89" stroke="#555" stroke-width="0.7" />
<line x1="580.45" y1="351.50" x2="580.45" y2="354.50" stroke="#555" stroke-width="0.7" />
<line x1="598.15" y1="351.50" x2="598.15" y2="353.30" stroke="#666" stroke-width="0.55" />
<line x1="608.50" y1="351.50" x2="608.50" y2="353.30" stroke="#666" stroke-width="0.55" />
<line x1="615.85" y1="351.50" x2="615.85" y2="353.30" stroke="#666" stroke-width="0.55" />
<line x1="621.55" y1="351.50" x2="621.55" y2="353.30" stroke="#666" stroke-width="0.55" />
<line x1="626.21" y1="351.50" x2="626.21" y2="353.30" stroke="#666" stroke-width="0.55" />
<line x1="630.14" y1="351.50" x2="630.14" y2="353.30" stroke="#666" stroke-width="0.55" />
<line x1="633.55" y1="351.50" x2="633.55" y2="353.30" stroke="#666" stroke-width="0.55" />
<line x1="636.56" y1="351.50" x2="636.56" y2="353.30" stroke="#666" stroke-width="0.55" />
<line x1="639.25" y1="351.50" x2="639.25" y2="354.50" stroke="#555" stroke-width="0.7" />
<line x1="656.95" y1="351.50" x2="656.95" y2="353.30" stroke="#666" stroke-width="0.55" />
<line x1="667.30" y1="351.50" x2="667.30" y2="353.30" stroke="#666" stroke-width="0.55" />
<text x="0" y="0" font-size="10.5" text-anchor="middle" fill="#262626" textLength="25.0" lengthAdjust="spacingAndGlyphs" transform="translate(682.3,340.60) rotate(-90)">120m</text>
<clipPath id="bc5_3"><rect x="580.45" y="358.50" width="87.20" height="25.00"/></clipPath>
<g clip-path="url(#bc5_3)">
<polyline points="590.29,365.82 598.15,366.65 603.85,368.21 609.34,370.55 616.48,375.36 622.55,376.03 630.14,376.99 638.73,377.86 646.15,377.70 653.54,380.09 660.52,380.58 667.30,381.55" fill="none" stroke="#b5e1f0" stroke-width="2.2" stroke-linejoin="round" stroke-linecap="square" />
<polyline points="590.29,365.82 598.15,366.65 603.85,368.21 609.34,370.55 616.48,375.36 622.55,376.03 630.14,376.99 638.73,377.86 646.15,377.70 653.54,380.09 660.52,380.58 667.30,381.55" fill="none" stroke="#5590b3" stroke-width="0.95" stroke-linejoin="round" stroke-linecap="square" />
<polyline points="590.29,363.92 598.15,363.73 603.85,364.99 609.34,367.04 616.48,373.03 622.55,374.54 630.14,376.10 638.73,377.90 646.15,378.19 653.54,381.55 660.52,382.04 667.30,383.50" fill="none" stroke="#2a2a2a" stroke-width="1.05" stroke-linejoin="round" stroke-linecap="square" />
</g>
<line x1="580.45" y1="360.50" x2="580.45" y2="383.50" stroke="#8c8c8c" stroke-width="0.8" />
<line x1="580.45" y1="383.50" x2="667.65" y2="383.50" stroke="#8c8c8c" stroke-width="0.8" />
<line x1="577.75" y1="383.50" x2="580.45" y2="383.50" stroke="#555" stroke-width="0.7" />
<line x1="577.75" y1="368.89" x2="580.45" y2="368.89" stroke="#555" stroke-width="0.7" />
<line x1="580.45" y1="383.50" x2="580.45" y2="386.50" stroke="#555" stroke-width="0.7" />
<line x1="598.15" y1="383.50" x2="598.15" y2="385.30" stroke="#666" stroke-width="0.55" />
<line x1="608.50" y1="383.50" x2="608.50" y2="385.30" stroke="#666" stroke-width="0.55" />
<line x1="615.85" y1="383.50" x2="615.85" y2="385.30" stroke="#666" stroke-width="0.55" />
<line x1="621.55" y1="383.50" x2="621.55" y2="385.30" stroke="#666" stroke-width="0.55" />
<line x1="626.21" y1="383.50" x2="626.21" y2="385.30" stroke="#666" stroke-width="0.55" />
<line x1="630.14" y1="383.50" x2="630.14" y2="385.30" stroke="#666" stroke-width="0.55" />
<line x1="633.55" y1="383.50" x2="633.55" y2="385.30" stroke="#666" stroke-width="0.55" />
<line x1="636.56" y1="383.50" x2="636.56" y2="385.30" stroke="#666" stroke-width="0.55" />
<line x1="639.25" y1="383.50" x2="639.25" y2="386.50" stroke="#555" stroke-width="0.7" />
<line x1="656.95" y1="383.50" x2="656.95" y2="385.30" stroke="#666" stroke-width="0.55" />
<line x1="667.30" y1="383.50" x2="667.30" y2="385.30" stroke="#666" stroke-width="0.55" />
<text x="0" y="0" font-size="10.5" text-anchor="middle" fill="#262626" textLength="19.2" lengthAdjust="spacingAndGlyphs" transform="translate(682.3,372.80) rotate(-90)">80m</text>
<clipPath id="bc5_4"><rect x="580.45" y="390.70" width="87.20" height="24.70"/></clipPath>
<g clip-path="url(#bc5_4)">
<polyline points="590.29,397.38 598.15,398.21 603.85,399.77 609.34,402.10 616.48,406.98 622.55,407.72 630.14,408.76 638.73,409.69 646.15,409.60 653.54,412.48 660.52,412.96 667.30,413.21" fill="none" stroke="#b5e1f0" stroke-width="2.2" stroke-linejoin="round" stroke-linecap="square" />
<polyline points="590.29,397.38 598.15,398.21 603.85,399.77 609.34,402.10 616.48,406.98 622.55,407.72 630.14,408.76 638.73,409.69 646.15,409.60 653.54,412.48 660.52,412.96 667.30,413.21" fill="none" stroke="#5590b3" stroke-width="0.95" stroke-linejoin="round" stroke-linecap="square" />
<polyline points="590.29,396.80 598.15,396.60 603.85,397.87 609.34,399.91 616.48,405.71 622.55,407.02 630.14,408.39 638.73,409.99 646.15,410.09 653.54,413.45 660.52,415.40 667.30,417.83" fill="none" stroke="#2a2a2a" stroke-width="1.05" stroke-linejoin="round" stroke-linecap="square" />
</g>
<line x1="580.45" y1="392.70" x2="580.45" y2="415.40" stroke="#8c8c8c" stroke-width="0.8" />
<line x1="580.45" y1="415.40" x2="667.65" y2="415.40" stroke="#8c8c8c" stroke-width="0.8" />
<line x1="577.75" y1="415.40" x2="580.45" y2="415.40" stroke="#555" stroke-width="0.7" />
<line x1="577.75" y1="400.79" x2="580.45" y2="400.79" stroke="#555" stroke-width="0.7" />
<line x1="580.45" y1="415.40" x2="580.45" y2="418.40" stroke="#555" stroke-width="0.7" />
<line x1="598.15" y1="415.40" x2="598.15" y2="417.20" stroke="#666" stroke-width="0.55" />
<line x1="608.50" y1="415.40" x2="608.50" y2="417.20" stroke="#666" stroke-width="0.55" />
<line x1="615.85" y1="415.40" x2="615.85" y2="417.20" stroke="#666" stroke-width="0.55" />
<line x1="621.55" y1="415.40" x2="621.55" y2="417.20" stroke="#666" stroke-width="0.55" />
<line x1="626.21" y1="415.40" x2="626.21" y2="417.20" stroke="#666" stroke-width="0.55" />
<line x1="630.14" y1="415.40" x2="630.14" y2="417.20" stroke="#666" stroke-width="0.55" />
<line x1="633.55" y1="415.40" x2="633.55" y2="417.20" stroke="#666" stroke-width="0.55" />
<line x1="636.56" y1="415.40" x2="636.56" y2="417.20" stroke="#666" stroke-width="0.55" />
<line x1="639.25" y1="415.40" x2="639.25" y2="418.40" stroke="#555" stroke-width="0.7" />
<line x1="656.95" y1="415.40" x2="656.95" y2="417.20" stroke="#666" stroke-width="0.55" />
<line x1="667.30" y1="415.40" x2="667.30" y2="417.20" stroke="#666" stroke-width="0.55" />
<text x="0" y="0" font-size="10.5" text-anchor="middle" fill="#262626" textLength="19.2" lengthAdjust="spacingAndGlyphs" transform="translate(682.3,404.85) rotate(-90)">40m</text>
<clipPath id="bc5_5"><rect x="580.45" y="422.70" width="87.20" height="24.80"/></clipPath>
<g clip-path="url(#bc5_5)">
<polyline points="590.29,429.58 598.15,430.41 603.85,431.96 609.34,434.30 616.48,439.16 622.55,439.88 630.14,440.90 638.73,441.81 646.15,441.70 653.54,444.09 660.52,444.58 667.30,445.55" fill="none" stroke="#b5e1f0" stroke-width="2.2" stroke-linejoin="round" stroke-linecap="square" />
<polyline points="590.29,429.58 598.15,430.41 603.85,431.96 609.34,434.30 616.48,439.16 622.55,439.88 630.14,440.90 638.73,441.81 646.15,441.70 653.54,444.09 660.52,444.58 667.30,445.55" fill="none" stroke="#5590b3" stroke-width="0.95" stroke-linejoin="round" stroke-linecap="square" />
<polyline points="590.29,428.99 598.15,428.80 603.85,430.07 609.34,432.11 616.48,437.89 622.55,439.18 630.14,440.53 638.73,442.11 646.15,442.19 653.54,445.55 660.52,446.04 667.30,447.50" fill="none" stroke="#2a2a2a" stroke-width="1.05" stroke-linejoin="round" stroke-linecap="square" />
</g>
<line x1="580.45" y1="424.70" x2="580.45" y2="447.50" stroke="#8c8c8c" stroke-width="0.8" />
<line x1="580.45" y1="447.50" x2="667.65" y2="447.50" stroke="#8c8c8c" stroke-width="0.8" />
<line x1="577.75" y1="447.50" x2="580.45" y2="447.50" stroke="#555" stroke-width="0.7" />
<line x1="577.75" y1="432.89" x2="580.45" y2="432.89" stroke="#555" stroke-width="0.7" />
<line x1="580.45" y1="447.50" x2="580.45" y2="450.50" stroke="#555" stroke-width="0.7" />
<line x1="598.15" y1="447.50" x2="598.15" y2="449.30" stroke="#666" stroke-width="0.55" />
<line x1="608.50" y1="447.50" x2="608.50" y2="449.30" stroke="#666" stroke-width="0.55" />
<line x1="615.85" y1="447.50" x2="615.85" y2="449.30" stroke="#666" stroke-width="0.55" />
<line x1="621.55" y1="447.50" x2="621.55" y2="449.30" stroke="#666" stroke-width="0.55" />
<line x1="626.21" y1="447.50" x2="626.21" y2="449.30" stroke="#666" stroke-width="0.55" />
<line x1="630.14" y1="447.50" x2="630.14" y2="449.30" stroke="#666" stroke-width="0.55" />
<line x1="633.55" y1="447.50" x2="633.55" y2="449.30" stroke="#666" stroke-width="0.55" />
<line x1="636.56" y1="447.50" x2="636.56" y2="449.30" stroke="#666" stroke-width="0.55" />
<line x1="639.25" y1="447.50" x2="639.25" y2="450.50" stroke="#555" stroke-width="0.7" />
<line x1="656.95" y1="447.50" x2="656.95" y2="449.30" stroke="#666" stroke-width="0.55" />
<line x1="667.30" y1="447.50" x2="667.30" y2="449.30" stroke="#666" stroke-width="0.55" />
<text x="580.45" y="458.90" font-size="8.2" text-anchor="middle" fill="#262626" textLength="10.80" lengthAdjust="spacingAndGlyphs" >0.1</text>
<text x="639.25" y="458.90" font-size="8.2" text-anchor="middle" fill="#262626" textLength="4.20" lengthAdjust="spacingAndGlyphs" >1</text>
<text x="0" y="0" font-size="10.5" text-anchor="middle" fill="#262626" textLength="13.6" lengthAdjust="spacingAndGlyphs" transform="translate(682.3,436.90) rotate(-90)">0m</text>
<g transform="translate(0,0)">
<text x="0" y="0" font-size="8.6" text-anchor="middle" fill="#262626" textLength="11.6" lengthAdjust="spacingAndGlyphs" transform="translate(8.7,354.5) rotate(-90)">DN</text>
<line x1="11.40" y1="338.00" x2="11.40" y2="368.90" stroke="#262626" stroke-width="0.8" />
<text x="0" y="0" font-size="8.6" text-anchor="start" fill="#262626" textLength="24.9" lengthAdjust="spacingAndGlyphs" transform="translate(18.8,368.4) rotate(-90)">DlogD</text>
<text x="0" y="0" font-size="5.6" text-anchor="start" fill="#262626" transform="translate(22.4,343.4) rotate(-90)">p</text>
</g>
<text x="358.70" y="474.00" font-size="10.8" text-anchor="middle" fill="#262626" textLength="102.60" lengthAdjust="spacingAndGlyphs" >Diameter Size [µm]</text>
<rect x="609.6" y="467.5" width="60.0" height="22.7" rx="1.8" fill="#fff" stroke="#e0e0e0" stroke-width="0.8"/>
<line x1="611.80" y1="473.80" x2="624.80" y2="473.80" stroke="#b5e1f0" stroke-width="1.6" />
<line x1="611.80" y1="483.60" x2="624.80" y2="483.60" stroke="#333" stroke-width="1.2" />
<text x="629.80" y="476.00" font-size="7.0" text-anchor="start" fill="#262626" textLength="36.80" lengthAdjust="spacingAndGlyphs" >Background</text>
<text x="629.80" y="485.80" font-size="7.0" text-anchor="start" fill="#262626" textLength="33.80" lengthAdjust="spacingAndGlyphs" >Dust Event</text>
</svg>
</body></html>
